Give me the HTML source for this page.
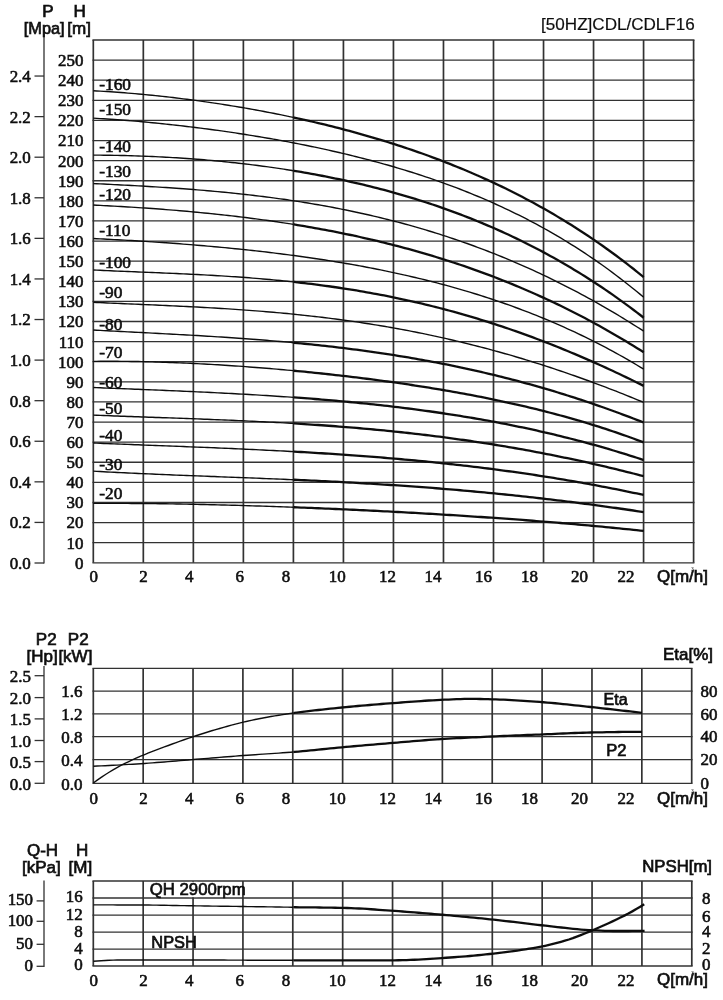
<!DOCTYPE html>
<html lang="en">
<head>
<meta charset="utf-8">
<title>[50HZ]CDL/CDLF16 performance curves</title>
<style>
html,body{margin:0;padding:0;background:#fff;}
body{width:723px;height:1000px;overflow:hidden;}
svg{display:block;}
text.s{font-family:"Liberation Serif", "Times New Roman", serif;}
text.a{font-family:"Liberation Sans", Arial, sans-serif;}
</style>
</head>
<body>
<svg width="723" height="1000" viewBox="0 0 723 1000">
<rect x="0" y="0" width="723" height="1000" fill="#ffffff"/>
<g filter="url(#soft)">
<line x1="92.45" y1="40.00" x2="694.45" y2="40.00" stroke="#333" stroke-width="1.3"/>
<line x1="92.45" y1="60.11" x2="694.45" y2="60.11" stroke="#333" stroke-width="1.3"/>
<line x1="92.45" y1="80.22" x2="694.45" y2="80.22" stroke="#333" stroke-width="1.3"/>
<line x1="92.45" y1="100.32" x2="694.45" y2="100.32" stroke="#333" stroke-width="1.3"/>
<line x1="92.45" y1="120.43" x2="694.45" y2="120.43" stroke="#333" stroke-width="1.3"/>
<line x1="92.45" y1="140.54" x2="694.45" y2="140.54" stroke="#333" stroke-width="1.3"/>
<line x1="92.45" y1="160.65" x2="694.45" y2="160.65" stroke="#333" stroke-width="1.3"/>
<line x1="92.45" y1="180.75" x2="694.45" y2="180.75" stroke="#333" stroke-width="1.3"/>
<line x1="92.45" y1="200.86" x2="694.45" y2="200.86" stroke="#333" stroke-width="1.3"/>
<line x1="92.45" y1="220.97" x2="694.45" y2="220.97" stroke="#333" stroke-width="1.3"/>
<line x1="92.45" y1="241.08" x2="694.45" y2="241.08" stroke="#333" stroke-width="1.3"/>
<line x1="92.45" y1="261.18" x2="694.45" y2="261.18" stroke="#333" stroke-width="1.3"/>
<line x1="92.45" y1="281.29" x2="694.45" y2="281.29" stroke="#333" stroke-width="1.3"/>
<line x1="92.45" y1="301.40" x2="694.45" y2="301.40" stroke="#333" stroke-width="1.3"/>
<line x1="92.45" y1="321.51" x2="694.45" y2="321.51" stroke="#333" stroke-width="1.3"/>
<line x1="92.45" y1="341.62" x2="694.45" y2="341.62" stroke="#333" stroke-width="1.3"/>
<line x1="92.45" y1="361.72" x2="694.45" y2="361.72" stroke="#333" stroke-width="1.3"/>
<line x1="92.45" y1="381.83" x2="694.45" y2="381.83" stroke="#333" stroke-width="1.3"/>
<line x1="92.45" y1="401.94" x2="694.45" y2="401.94" stroke="#333" stroke-width="1.3"/>
<line x1="92.45" y1="422.05" x2="694.45" y2="422.05" stroke="#333" stroke-width="1.3"/>
<line x1="92.45" y1="442.15" x2="694.45" y2="442.15" stroke="#333" stroke-width="1.3"/>
<line x1="92.45" y1="462.26" x2="694.45" y2="462.26" stroke="#333" stroke-width="1.3"/>
<line x1="92.45" y1="482.37" x2="694.45" y2="482.37" stroke="#333" stroke-width="1.3"/>
<line x1="92.45" y1="502.48" x2="694.45" y2="502.48" stroke="#333" stroke-width="1.3"/>
<line x1="92.45" y1="522.58" x2="694.45" y2="522.58" stroke="#333" stroke-width="1.3"/>
<line x1="92.45" y1="542.69" x2="694.45" y2="542.69" stroke="#333" stroke-width="1.3"/>
<line x1="92.45" y1="562.80" x2="694.45" y2="562.80" stroke="#333" stroke-width="1.3"/>
<line x1="93.30" y1="40.00" x2="93.30" y2="562.80" stroke="#333" stroke-width="1.7"/>
<line x1="143.32" y1="40.00" x2="143.32" y2="562.80" stroke="#333" stroke-width="1.7"/>
<line x1="193.35" y1="40.00" x2="193.35" y2="562.80" stroke="#333" stroke-width="1.7"/>
<line x1="243.38" y1="40.00" x2="243.38" y2="562.80" stroke="#333" stroke-width="1.7"/>
<line x1="293.40" y1="40.00" x2="293.40" y2="562.80" stroke="#333" stroke-width="1.7"/>
<line x1="343.43" y1="40.00" x2="343.43" y2="562.80" stroke="#333" stroke-width="1.7"/>
<line x1="393.45" y1="40.00" x2="393.45" y2="562.80" stroke="#333" stroke-width="1.7"/>
<line x1="443.48" y1="40.00" x2="443.48" y2="562.80" stroke="#333" stroke-width="1.7"/>
<line x1="493.50" y1="40.00" x2="493.50" y2="562.80" stroke="#333" stroke-width="1.7"/>
<line x1="543.53" y1="40.00" x2="543.53" y2="562.80" stroke="#333" stroke-width="1.7"/>
<line x1="593.55" y1="40.00" x2="593.55" y2="562.80" stroke="#333" stroke-width="1.7"/>
<line x1="643.58" y1="40.00" x2="643.58" y2="562.80" stroke="#333" stroke-width="1.7"/>
<line x1="693.60" y1="40.00" x2="693.60" y2="562.80" stroke="#333" stroke-width="1.7"/>
<line x1="44.00" y1="28.00" x2="44.00" y2="563.60" stroke="#333" stroke-width="1.3"/>
<line x1="34.50" y1="563.00" x2="44.00" y2="563.00" stroke="#333" stroke-width="1.3"/>
<line x1="34.50" y1="522.42" x2="44.00" y2="522.42" stroke="#333" stroke-width="1.3"/>
<line x1="34.50" y1="481.84" x2="44.00" y2="481.84" stroke="#333" stroke-width="1.3"/>
<line x1="34.50" y1="441.26" x2="44.00" y2="441.26" stroke="#333" stroke-width="1.3"/>
<line x1="34.50" y1="400.68" x2="44.00" y2="400.68" stroke="#333" stroke-width="1.3"/>
<line x1="34.50" y1="360.10" x2="44.00" y2="360.10" stroke="#333" stroke-width="1.3"/>
<line x1="34.50" y1="319.52" x2="44.00" y2="319.52" stroke="#333" stroke-width="1.3"/>
<line x1="34.50" y1="278.94" x2="44.00" y2="278.94" stroke="#333" stroke-width="1.3"/>
<line x1="34.50" y1="238.36" x2="44.00" y2="238.36" stroke="#333" stroke-width="1.3"/>
<line x1="34.50" y1="197.78" x2="44.00" y2="197.78" stroke="#333" stroke-width="1.3"/>
<line x1="34.50" y1="157.20" x2="44.00" y2="157.20" stroke="#333" stroke-width="1.3"/>
<line x1="34.50" y1="116.62" x2="44.00" y2="116.62" stroke="#333" stroke-width="1.3"/>
<line x1="34.50" y1="76.04" x2="44.00" y2="76.04" stroke="#333" stroke-width="1.3"/>
<polyline points="93.30,90.75 96.76,90.94 100.22,91.14 103.68,91.34 107.15,91.56 110.61,91.79 114.07,92.03 117.53,92.28 120.99,92.53 124.45,92.80 127.92,93.08 131.38,93.37 134.84,93.66 138.30,93.97 141.76,94.29 145.22,94.61 148.69,94.95 152.15,95.30 155.61,95.65 159.07,96.01 162.53,96.39 165.99,96.77 169.46,97.16 172.92,97.56 176.38,97.98 179.84,98.40 183.30,98.83 186.76,99.26 190.23,99.71 193.69,100.17 197.15,100.64 200.61,101.11 204.07,101.60 207.53,102.09 211.00,102.60 214.46,103.11 217.92,103.63 221.38,104.16 224.84,104.71 228.30,105.26 231.77,105.82 235.23,106.39 238.69,106.97 242.15,107.56 245.61,108.15 249.07,108.76 252.54,109.38 256.00,110.01 259.46,110.65 262.92,111.29 266.38,111.95 269.84,112.62 273.31,113.30 276.77,113.99 280.23,114.68 283.69,115.39 287.15,116.11 290.61,116.84 293.40,117.44" fill="none" stroke="#111" stroke-width="1.4" stroke-linejoin="round" stroke-linecap="butt"/>
<polyline points="293.40,117.44 294.07,117.58 297.54,118.33 301.00,119.10 304.46,119.87 307.92,120.65 311.38,121.45 314.84,122.25 318.31,123.07 321.77,123.90 325.23,124.74 328.69,125.59 332.15,126.46 335.61,127.33 339.08,128.22 342.54,129.12 346.00,130.03 349.46,130.96 352.92,131.89 356.38,132.84 359.85,133.81 363.31,134.78 366.77,135.77 370.23,136.78 373.69,137.79 377.15,138.82 380.62,139.87 384.08,140.92 387.54,142.00 391.00,143.08 394.46,144.18 397.92,145.30 401.39,146.43 404.85,147.57 408.31,148.74 411.77,149.91 415.23,151.10 418.69,152.31 422.16,153.54 425.62,154.78 429.08,156.04 432.54,157.31 436.00,158.60 439.46,159.91 442.93,161.23 446.39,162.58 449.85,163.94 453.31,165.32 456.77,166.71 460.23,168.13 463.69,169.56 467.16,171.02 470.62,172.49 474.08,173.98 477.54,175.50 481.00,177.03 484.46,178.58 487.93,180.15 491.39,181.75 494.85,183.36 498.31,185.00 501.77,186.66 505.23,188.34 508.70,190.04 512.16,191.77 515.62,193.51 519.08,195.29 522.54,197.08 526.00,198.90 529.47,200.74 532.93,202.61 536.39,204.50 539.85,206.41 543.31,208.35 546.77,210.32 550.24,212.31 553.70,214.33 557.16,216.38 560.62,218.45 564.08,220.55 567.54,222.67 571.01,224.83 574.47,227.01 577.93,229.22 581.39,231.46 584.85,233.73 588.31,236.03 591.78,238.36 595.24,240.72 598.70,243.11 602.16,245.53 605.62,247.98 609.08,250.47 612.55,252.98 616.01,255.53 619.47,258.11 622.93,260.73 626.39,263.38 629.85,266.06 633.32,268.78 636.78,271.53 640.24,274.32 643.70,277.14" fill="none" stroke="#111" stroke-width="2.3" stroke-linejoin="round" stroke-linecap="butt"/>
<polyline points="93.30,118.17 96.76,118.37 100.22,118.58 103.68,118.80 107.15,119.02 110.61,119.26 114.07,119.50 117.53,119.75 120.99,120.01 124.45,120.27 127.92,120.55 131.38,120.83 134.84,121.12 138.30,121.42 141.76,121.73 145.22,122.04 148.69,122.37 152.15,122.70 155.61,123.04 159.07,123.38 162.53,123.74 165.99,124.10 169.46,124.47 172.92,124.84 176.38,125.23 179.84,125.62 183.30,126.02 186.76,126.43 190.23,126.84 193.69,127.26 197.15,127.69 200.61,128.13 204.07,128.58 207.53,129.03 211.00,129.49 214.46,129.96 217.92,130.43 221.38,130.92 224.84,131.41 228.30,131.91 231.77,132.42 235.23,132.93 238.69,133.46 242.15,133.99 245.61,134.53 249.07,135.08 252.54,135.63 256.00,136.20 259.46,136.77 262.92,137.36 266.38,137.95 269.84,138.55 273.31,139.15 276.77,139.77 280.23,140.40 283.69,141.03 287.15,141.68 290.61,142.33 294.07,142.99 297.54,143.67 301.00,144.35 304.46,145.04 307.92,145.75 311.38,146.46 314.84,147.18 318.31,147.92 321.77,148.66 325.23,149.41 328.69,150.18 332.15,150.96 335.61,151.74 339.08,152.54 342.54,153.35 346.00,154.18 349.46,155.01 352.92,155.86 356.38,156.72 359.85,157.59 363.31,158.47 366.77,159.37 370.23,160.28 373.69,161.20 377.15,162.14 380.62,163.09 384.08,164.05 387.54,165.03 391.00,166.02 394.46,167.03 397.92,168.05 401.39,169.09 404.85,170.14 408.31,171.21 411.77,172.29 415.23,173.39 418.69,174.51 422.16,175.64 425.62,176.79 429.08,177.95 432.54,179.14 436.00,180.34 439.46,181.56 442.93,182.79 446.39,184.05 449.85,185.32 453.31,186.62 456.77,187.93 460.23,189.26 463.69,190.61 467.16,191.99 470.62,193.38 474.08,194.79 477.54,196.23 481.00,197.69 484.46,199.17 487.93,200.67 491.39,202.19 494.85,203.74 498.31,205.31 501.77,206.90 505.23,208.52 508.70,210.16 512.16,211.82 515.62,213.51 519.08,215.23 522.54,216.97 526.00,218.74 529.47,220.53 532.93,222.36 536.39,224.20 539.85,226.08 543.31,227.99 546.77,229.92 550.24,231.88 553.70,233.87 557.16,235.89 560.62,237.94 564.08,240.02 567.54,242.14 571.01,244.28 574.47,246.45 577.93,248.66 581.39,250.90 584.85,253.17 588.31,255.48 591.78,257.82 595.24,260.20 598.70,262.61 602.16,265.05 605.62,267.53 609.08,270.05 612.55,272.60 616.01,275.19 619.47,277.82 622.93,280.49 626.39,283.19 629.85,285.94 633.32,288.72 636.78,291.55 640.24,294.41 643.70,297.32" fill="none" stroke="#111" stroke-width="1.4" stroke-linejoin="round" stroke-linecap="butt"/>
<polyline points="93.30,155.12 96.76,155.13 100.22,155.16 103.68,155.19 107.15,155.23 110.61,155.27 114.07,155.33 117.53,155.39 120.99,155.47 124.45,155.55 127.92,155.64 131.38,155.73 134.84,155.84 138.30,155.95 141.76,156.08 145.22,156.21 148.69,156.35 152.15,156.50 155.61,156.66 159.07,156.83 162.53,157.00 165.99,157.19 169.46,157.38 172.92,157.58 176.38,157.79 179.84,158.01 183.30,158.24 186.76,158.48 190.23,158.73 193.69,158.99 197.15,159.25 200.61,159.53 204.07,159.82 207.53,160.11 211.00,160.42 214.46,160.73 217.92,161.05 221.38,161.39 224.84,161.73 228.30,162.08 231.77,162.45 235.23,162.82 238.69,163.21 242.15,163.60 245.61,164.01 249.07,164.42 252.54,164.85 256.00,165.28 259.46,165.73 262.92,166.19 266.38,166.66 269.84,167.14 273.31,167.63 276.77,168.13 280.23,168.65 283.69,169.17 287.15,169.71 290.61,170.26 293.40,170.71" fill="none" stroke="#111" stroke-width="1.4" stroke-linejoin="round" stroke-linecap="butt"/>
<polyline points="293.40,170.71 294.07,170.82 297.54,171.39 301.00,171.98 304.46,172.57 307.92,173.18 311.38,173.81 314.84,174.44 318.31,175.09 321.77,175.75 325.23,176.42 328.69,177.11 332.15,177.81 335.61,178.52 339.08,179.24 342.54,179.98 346.00,180.74 349.46,181.51 352.92,182.29 356.38,183.08 359.85,183.89 363.31,184.72 366.77,185.56 370.23,186.41 373.69,187.28 377.15,188.17 380.62,189.07 384.08,189.98 387.54,190.91 391.00,191.86 394.46,192.82 397.92,193.80 401.39,194.80 404.85,195.81 408.31,196.84 411.77,197.89 415.23,198.95 418.69,200.03 422.16,201.13 425.62,202.24 429.08,203.38 432.54,204.53 436.00,205.70 439.46,206.89 442.93,208.09 446.39,209.32 449.85,210.56 453.31,211.83 456.77,213.11 460.23,214.41 463.69,215.73 467.16,217.08 470.62,218.44 474.08,219.82 477.54,221.23 481.00,222.65 484.46,224.10 487.93,225.57 491.39,227.06 494.85,228.57 498.31,230.10 501.77,231.66 505.23,233.23 508.70,234.83 512.16,236.46 515.62,238.10 519.08,239.77 522.54,241.47 526.00,243.19 529.47,244.93 532.93,246.70 536.39,248.49 539.85,250.30 543.31,252.14 546.77,254.01 550.24,255.90 553.70,257.82 557.16,259.77 560.62,261.74 564.08,263.74 567.54,265.76 571.01,267.81 574.47,269.89 577.93,272.00 581.39,274.14 584.85,276.30 588.31,278.50 591.78,280.72 595.24,282.97 598.70,285.25 602.16,287.56 605.62,289.90 609.08,292.27 612.55,294.67 616.01,297.11 619.47,299.57 622.93,302.07 626.39,304.59 629.85,307.15 633.32,309.75 636.78,312.37 640.24,315.03 643.70,317.72" fill="none" stroke="#111" stroke-width="2.3" stroke-linejoin="round" stroke-linecap="butt"/>
<polyline points="93.30,183.58 96.76,183.74 100.22,183.91 103.68,184.07 107.15,184.24 110.61,184.41 114.07,184.58 117.53,184.76 120.99,184.94 124.45,185.12 127.92,185.30 131.38,185.49 134.84,185.67 138.30,185.87 141.76,186.06 145.22,186.26 148.69,186.47 152.15,186.68 155.61,186.89 159.07,187.11 162.53,187.33 165.99,187.55 169.46,187.78 172.92,188.02 176.38,188.26 179.84,188.51 183.30,188.76 186.76,189.02 190.23,189.29 193.69,189.56 197.15,189.84 200.61,190.12 204.07,190.41 207.53,190.71 211.00,191.01 214.46,191.33 217.92,191.65 221.38,191.97 224.84,192.31 228.30,192.65 231.77,193.00 235.23,193.36 238.69,193.72 242.15,194.10 245.61,194.48 249.07,194.88 252.54,195.28 256.00,195.69 259.46,196.11 262.92,196.54 266.38,196.97 269.84,197.42 273.31,197.88 276.77,198.35 280.23,198.83 283.69,199.31 287.15,199.81 290.61,200.32 294.07,200.84 297.54,201.37 301.00,201.91 304.46,202.47 307.92,203.03 311.38,203.61 314.84,204.19 318.31,204.79 321.77,205.40 325.23,206.03 328.69,206.66 332.15,207.31 335.61,207.97 339.08,208.64 342.54,209.33 346.00,210.02 349.46,210.74 352.92,211.46 356.38,212.20 359.85,212.95 363.31,213.71 366.77,214.49 370.23,215.28 373.69,216.08 377.15,216.90 380.62,217.74 384.08,218.58 387.54,219.45 391.00,220.32 394.46,221.21 397.92,222.12 401.39,223.04 404.85,223.98 408.31,224.93 411.77,225.89 415.23,226.87 418.69,227.87 422.16,228.88 425.62,229.91 429.08,230.96 432.54,232.02 436.00,233.09 439.46,234.19 442.93,235.30 446.39,236.42 449.85,237.56 453.31,238.72 456.77,239.90 460.23,241.09 463.69,242.30 467.16,243.53 470.62,244.77 474.08,246.03 477.54,247.31 481.00,248.61 484.46,249.92 487.93,251.25 491.39,252.60 494.85,253.97 498.31,255.35 501.77,256.76 505.23,258.18 508.70,259.62 512.16,261.08 515.62,262.56 519.08,264.05 522.54,265.57 526.00,267.10 529.47,268.66 532.93,270.23 536.39,271.82 539.85,273.43 543.31,275.06 546.77,276.71 550.24,278.38 553.70,280.07 557.16,281.78 560.62,283.51 564.08,285.26 567.54,287.03 571.01,288.82 574.47,290.62 577.93,292.45 581.39,294.30 584.85,296.17 588.31,298.07 591.78,299.98 595.24,301.91 598.70,303.86 602.16,305.84 605.62,307.83 609.08,309.85 612.55,311.89 616.01,313.94 619.47,316.02 622.93,318.13 626.39,320.25 629.85,322.39 633.32,324.56 636.78,326.75 640.24,328.96 643.70,331.19" fill="none" stroke="#111" stroke-width="1.4" stroke-linejoin="round" stroke-linecap="butt"/>
<polyline points="93.30,205.07 96.76,205.24 100.22,205.41 103.68,205.59 107.15,205.77 110.61,205.95 114.07,206.14 117.53,206.34 120.99,206.54 124.45,206.74 127.92,206.95 131.38,207.16 134.84,207.38 138.30,207.60 141.76,207.83 145.22,208.06 148.69,208.30 152.15,208.55 155.61,208.80 159.07,209.05 162.53,209.31 165.99,209.58 169.46,209.85 172.92,210.13 176.38,210.42 179.84,210.71 183.30,211.01 186.76,211.31 190.23,211.62 193.69,211.94 197.15,212.26 200.61,212.59 204.07,212.93 207.53,213.28 211.00,213.63 214.46,213.99 217.92,214.35 221.38,214.73 224.84,215.11 228.30,215.50 231.77,215.89 235.23,216.30 238.69,216.71 242.15,217.13 245.61,217.56 249.07,218.00 252.54,218.44 256.00,218.89 259.46,219.36 262.92,219.83 266.38,220.31 269.84,220.80 273.31,221.29 276.77,221.80 280.23,222.32 283.69,222.84 287.15,223.38 290.61,223.92 293.40,224.37" fill="none" stroke="#111" stroke-width="1.4" stroke-linejoin="round" stroke-linecap="butt"/>
<polyline points="293.40,224.37 294.07,224.48 297.54,225.04 301.00,225.61 304.46,226.20 307.92,226.79 311.38,227.40 314.84,228.01 318.31,228.64 321.77,229.27 325.23,229.92 328.69,230.58 332.15,231.24 335.61,231.92 339.08,232.61 342.54,233.32 346.00,234.03 349.46,234.75 352.92,235.49 356.38,236.24 359.85,237.00 363.31,237.77 366.77,238.55 370.23,239.35 373.69,240.16 377.15,240.98 380.62,241.81 384.08,242.66 387.54,243.52 391.00,244.39 394.46,245.28 397.92,246.18 401.39,247.09 404.85,248.02 408.31,248.96 411.77,249.91 415.23,250.88 418.69,251.86 422.16,252.86 425.62,253.86 429.08,254.89 432.54,255.93 436.00,256.98 439.46,258.05 442.93,259.13 446.39,260.23 449.85,261.34 453.31,262.47 456.77,263.62 460.23,264.78 463.69,265.95 467.16,267.15 470.62,268.35 474.08,269.58 477.54,270.82 481.00,272.07 484.46,273.35 487.93,274.64 491.39,275.94 494.85,277.27 498.31,278.61 501.77,279.96 505.23,281.34 508.70,282.73 512.16,284.14 515.62,285.57 519.08,287.02 522.54,288.48 526.00,289.97 529.47,291.47 532.93,292.99 536.39,294.52 539.85,296.08 543.31,297.66 546.77,299.25 550.24,300.87 553.70,302.50 557.16,304.15 560.62,305.83 564.08,307.52 567.54,309.23 571.01,310.97 574.47,312.72 577.93,314.49 581.39,316.29 584.85,318.10 588.31,319.94 591.78,321.80 595.24,323.67 598.70,325.57 602.16,327.49 605.62,329.44 609.08,331.40 612.55,333.39 616.01,335.40 619.47,337.43 622.93,339.48 626.39,341.56 629.85,343.66 633.32,345.78 636.78,347.92 640.24,350.09 643.70,352.28" fill="none" stroke="#111" stroke-width="2.3" stroke-linejoin="round" stroke-linecap="butt"/>
<polyline points="93.30,238.55 96.76,238.72 100.22,238.89 103.68,239.06 107.15,239.24 110.61,239.42 114.07,239.60 117.53,239.79 120.99,239.98 124.45,240.17 127.92,240.37 131.38,240.57 134.84,240.77 138.30,240.98 141.76,241.20 145.22,241.41 148.69,241.64 152.15,241.86 155.61,242.09 159.07,242.33 162.53,242.56 165.99,242.81 169.46,243.05 172.92,243.31 176.38,243.56 179.84,243.82 183.30,244.09 186.76,244.36 190.23,244.63 193.69,244.91 197.15,245.20 200.61,245.49 204.07,245.78 207.53,246.08 211.00,246.39 214.46,246.70 217.92,247.02 221.38,247.34 224.84,247.67 228.30,248.00 231.77,248.34 235.23,248.68 238.69,249.03 242.15,249.39 245.61,249.75 249.07,250.12 252.54,250.50 256.00,250.88 259.46,251.27 262.92,251.67 266.38,252.07 269.84,252.48 273.31,252.89 276.77,253.32 280.23,253.75 283.69,254.19 287.15,254.63 290.61,255.08 294.07,255.54 297.54,256.01 301.00,256.49 304.46,256.97 307.92,257.47 311.38,257.97 314.84,258.47 318.31,258.99 321.77,259.52 325.23,260.05 328.69,260.60 332.15,261.15 335.61,261.71 339.08,262.28 342.54,262.86 346.00,263.46 349.46,264.06 352.92,264.67 356.38,265.29 359.85,265.92 363.31,266.56 366.77,267.21 370.23,267.87 373.69,268.54 377.15,269.23 380.62,269.92 384.08,270.63 387.54,271.34 391.00,272.07 394.46,272.81 397.92,273.56 401.39,274.33 404.85,275.11 408.31,275.89 411.77,276.70 415.23,277.51 418.69,278.34 422.16,279.18 425.62,280.03 429.08,280.90 432.54,281.78 436.00,282.67 439.46,283.58 442.93,284.50 446.39,285.44 449.85,286.39 453.31,287.36 456.77,288.34 460.23,289.33 463.69,290.34 467.16,291.37 470.62,292.41 474.08,293.47 477.54,294.54 481.00,295.63 484.46,296.74 487.93,297.86 491.39,299.00 494.85,300.16 498.31,301.33 501.77,302.52 505.23,303.73 508.70,304.96 512.16,306.21 515.62,307.47 519.08,308.75 522.54,310.05 526.00,311.37 529.47,312.71 532.93,314.07 536.39,315.45 539.85,316.84 543.31,318.26 546.77,319.70 550.24,321.16 553.70,322.64 557.16,324.14 560.62,325.66 564.08,327.20 567.54,328.77 571.01,330.35 574.47,331.96 577.93,333.59 581.39,335.25 584.85,336.93 588.31,338.63 591.78,340.35 595.24,342.10 598.70,343.87 602.16,345.66 605.62,347.48 609.08,349.32 612.55,351.19 616.01,353.09 619.47,355.01 622.93,356.95 626.39,358.92 629.85,360.92 633.32,362.95 636.78,365.00 640.24,367.07 643.70,369.18" fill="none" stroke="#111" stroke-width="1.4" stroke-linejoin="round" stroke-linecap="butt"/>
<polyline points="93.30,269.98 96.76,270.15 100.22,270.31 103.68,270.47 107.15,270.63 110.61,270.78 114.07,270.93 117.53,271.08 120.99,271.22 124.45,271.37 127.92,271.51 131.38,271.66 134.84,271.80 138.30,271.94 141.76,272.08 145.22,272.22 148.69,272.37 152.15,272.51 155.61,272.65 159.07,272.80 162.53,272.94 165.99,273.09 169.46,273.24 172.92,273.40 176.38,273.55 179.84,273.71 183.30,273.87 186.76,274.04 190.23,274.20 193.69,274.38 197.15,274.55 200.61,274.73 204.07,274.92 207.53,275.10 211.00,275.30 214.46,275.50 217.92,275.70 221.38,275.91 224.84,276.13 228.30,276.35 231.77,276.58 235.23,276.81 238.69,277.05 242.15,277.30 245.61,277.56 249.07,277.82 252.54,278.09 256.00,278.36 259.46,278.65 262.92,278.94 266.38,279.24 269.84,279.55 273.31,279.87 276.77,280.20 280.23,280.53 283.69,280.88 287.15,281.23 290.61,281.59 293.40,281.89" fill="none" stroke="#111" stroke-width="1.4" stroke-linejoin="round" stroke-linecap="butt"/>
<polyline points="293.40,281.89 294.07,281.96 297.54,282.35 301.00,282.74 304.46,283.14 307.92,283.55 311.38,283.98 314.84,284.41 318.31,284.85 321.77,285.31 325.23,285.77 328.69,286.25 332.15,286.74 335.61,287.24 339.08,287.75 342.54,288.27 346.00,288.80 349.46,289.35 352.92,289.90 356.38,290.47 359.85,291.06 363.31,291.65 366.77,292.26 370.23,292.87 373.69,293.51 377.15,294.15 380.62,294.81 384.08,295.48 387.54,296.16 391.00,296.85 394.46,297.56 397.92,298.29 401.39,299.02 404.85,299.77 408.31,300.53 411.77,301.31 415.23,302.10 418.69,302.90 422.16,303.72 425.62,304.55 429.08,305.40 432.54,306.25 436.00,307.13 439.46,308.01 442.93,308.92 446.39,309.83 449.85,310.76 453.31,311.70 456.77,312.66 460.23,313.64 463.69,314.62 467.16,315.62 470.62,316.64 474.08,317.67 477.54,318.72 481.00,319.78 484.46,320.85 487.93,321.94 491.39,323.04 494.85,324.16 498.31,325.29 501.77,326.44 505.23,327.60 508.70,328.78 512.16,329.97 515.62,331.18 519.08,332.40 522.54,333.63 526.00,334.88 529.47,336.15 532.93,337.42 536.39,338.72 539.85,340.03 543.31,341.35 546.77,342.69 550.24,344.04 553.70,345.40 557.16,346.79 560.62,348.18 564.08,349.59 567.54,351.01 571.01,352.45 574.47,353.90 577.93,355.37 581.39,356.85 584.85,358.35 588.31,359.86 591.78,361.38 595.24,362.92 598.70,364.47 602.16,366.03 605.62,367.61 609.08,369.20 612.55,370.81 616.01,372.42 619.47,374.06 622.93,375.70 626.39,377.36 629.85,379.03 633.32,380.72 636.78,382.42 640.24,384.13 643.70,385.85" fill="none" stroke="#111" stroke-width="2.3" stroke-linejoin="round" stroke-linecap="butt"/>
<polyline points="93.30,302.32 96.76,302.48 100.22,302.64 103.68,302.80 107.15,302.95 110.61,303.11 114.07,303.26 117.53,303.41 120.99,303.56 124.45,303.71 127.92,303.86 131.38,304.01 134.84,304.16 138.30,304.31 141.76,304.46 145.22,304.61 148.69,304.76 152.15,304.91 155.61,305.07 159.07,305.22 162.53,305.38 165.99,305.54 169.46,305.70 172.92,305.86 176.38,306.02 179.84,306.19 183.30,306.36 186.76,306.53 190.23,306.71 193.69,306.89 197.15,307.07 200.61,307.25 204.07,307.44 207.53,307.64 211.00,307.84 214.46,308.04 217.92,308.24 221.38,308.46 224.84,308.67 228.30,308.89 231.77,309.12 235.23,309.35 238.69,309.59 242.15,309.83 245.61,310.08 249.07,310.34 252.54,310.60 256.00,310.86 259.46,311.14 262.92,311.42 266.38,311.70 269.84,312.00 273.31,312.30 276.77,312.61 280.23,312.92 283.69,313.24 287.15,313.57 290.61,313.91 294.07,314.25 297.54,314.61 301.00,314.97 304.46,315.34 307.92,315.71 311.38,316.10 314.84,316.49 318.31,316.89 321.77,317.30 325.23,317.72 328.69,318.15 332.15,318.59 335.61,319.04 339.08,319.49 342.54,319.96 346.00,320.43 349.46,320.92 352.92,321.41 356.38,321.92 359.85,322.43 363.31,322.95 366.77,323.48 370.23,324.03 373.69,324.58 377.15,325.14 380.62,325.72 384.08,326.30 387.54,326.90 391.00,327.50 394.46,328.12 397.92,328.74 401.39,329.38 404.85,330.03 408.31,330.68 411.77,331.35 415.23,332.03 418.69,332.73 422.16,333.43 425.62,334.14 429.08,334.87 432.54,335.60 436.00,336.35 439.46,337.11 442.93,337.88 446.39,338.66 449.85,339.45 453.31,340.25 456.77,341.07 460.23,341.90 463.69,342.73 467.16,343.58 470.62,344.45 474.08,345.32 477.54,346.20 481.00,347.10 484.46,348.01 487.93,348.93 491.39,349.86 494.85,350.81 498.31,351.76 501.77,352.73 505.23,353.71 508.70,354.70 512.16,355.70 515.62,356.72 519.08,357.74 522.54,358.78 526.00,359.83 529.47,360.89 532.93,361.97 536.39,363.05 539.85,364.15 543.31,365.26 546.77,366.38 550.24,367.51 553.70,368.65 557.16,369.81 560.62,370.98 564.08,372.16 567.54,373.35 571.01,374.55 574.47,375.77 577.93,376.99 581.39,378.23 584.85,379.48 588.31,380.74 591.78,382.01 595.24,383.29 598.70,384.59 602.16,385.89 605.62,387.21 609.08,388.54 612.55,389.87 616.01,391.22 619.47,392.59 622.93,393.96 626.39,395.34 629.85,396.73 633.32,398.14 636.78,399.55 640.24,400.98 643.70,402.42" fill="none" stroke="#111" stroke-width="1.4" stroke-linejoin="round" stroke-linecap="butt"/>
<polyline points="93.30,330.02 96.76,330.21 100.22,330.40 103.68,330.58 107.15,330.77 110.61,330.95 114.07,331.13 117.53,331.31 120.99,331.49 124.45,331.67 127.92,331.85 131.38,332.03 134.84,332.21 138.30,332.39 141.76,332.57 145.22,332.74 148.69,332.92 152.15,333.10 155.61,333.29 159.07,333.47 162.53,333.65 165.99,333.83 169.46,334.02 172.92,334.21 176.38,334.39 179.84,334.59 183.30,334.78 186.76,334.97 190.23,335.17 193.69,335.37 197.15,335.57 200.61,335.77 204.07,335.98 207.53,336.19 211.00,336.40 214.46,336.62 217.92,336.84 221.38,337.06 224.84,337.29 228.30,337.52 231.77,337.75 235.23,337.99 238.69,338.23 242.15,338.47 245.61,338.72 249.07,338.98 252.54,339.24 256.00,339.50 259.46,339.77 262.92,340.04 266.38,340.32 269.84,340.61 273.31,340.90 276.77,341.19 280.23,341.49 283.69,341.80 287.15,342.11 290.61,342.42 293.40,342.68" fill="none" stroke="#111" stroke-width="1.4" stroke-linejoin="round" stroke-linecap="butt"/>
<polyline points="293.40,342.68 294.07,342.75 297.54,343.08 301.00,343.41 304.46,343.76 307.92,344.10 311.38,344.46 314.84,344.82 318.31,345.19 321.77,345.56 325.23,345.95 328.69,346.34 332.15,346.73 335.61,347.14 339.08,347.55 342.54,347.97 346.00,348.39 349.46,348.83 352.92,349.27 356.38,349.72 359.85,350.18 363.31,350.64 366.77,351.12 370.23,351.60 373.69,352.09 377.15,352.59 380.62,353.10 384.08,353.61 387.54,354.14 391.00,354.67 394.46,355.22 397.92,355.77 401.39,356.33 404.85,356.90 408.31,357.48 411.77,358.07 415.23,358.67 418.69,359.28 422.16,359.89 425.62,360.52 429.08,361.16 432.54,361.81 436.00,362.46 439.46,363.13 442.93,363.81 446.39,364.49 449.85,365.19 453.31,365.90 456.77,366.62 460.23,367.35 463.69,368.08 467.16,368.83 470.62,369.60 474.08,370.37 477.54,371.15 481.00,371.94 484.46,372.75 487.93,373.56 491.39,374.39 494.85,375.22 498.31,376.07 501.77,376.93 505.23,377.80 508.70,378.68 512.16,379.58 515.62,380.48 519.08,381.40 522.54,382.33 526.00,383.27 529.47,384.22 532.93,385.18 536.39,386.16 539.85,387.15 543.31,388.15 546.77,389.16 550.24,390.18 553.70,391.22 557.16,392.27 560.62,393.33 564.08,394.40 567.54,395.48 571.01,396.58 574.47,397.69 577.93,398.81 581.39,399.95 584.85,401.09 588.31,402.25 591.78,403.42 595.24,404.61 598.70,405.81 602.16,407.02 605.62,408.24 609.08,409.48 612.55,410.72 616.01,411.99 619.47,413.26 622.93,414.55 626.39,415.85 629.85,417.16 633.32,418.49 636.78,419.83 640.24,421.18 643.70,422.54" fill="none" stroke="#111" stroke-width="2.3" stroke-linejoin="round" stroke-linecap="butt"/>
<polyline points="93.30,361.39 96.76,361.35 100.22,361.32 103.68,361.31 107.15,361.30 110.61,361.29 114.07,361.30 117.53,361.32 120.99,361.34 124.45,361.37 127.92,361.41 131.38,361.46 134.84,361.51 138.30,361.57 141.76,361.64 145.22,361.72 148.69,361.80 152.15,361.89 155.61,361.98 159.07,362.09 162.53,362.20 165.99,362.32 169.46,362.44 172.92,362.57 176.38,362.70 179.84,362.85 183.30,363.00 186.76,363.15 190.23,363.31 193.69,363.48 197.15,363.65 200.61,363.83 204.07,364.02 207.53,364.21 211.00,364.40 214.46,364.61 217.92,364.81 221.38,365.03 224.84,365.24 228.30,365.47 231.77,365.70 235.23,365.93 238.69,366.17 242.15,366.42 245.61,366.67 249.07,366.93 252.54,367.19 256.00,367.46 259.46,367.73 262.92,368.00 266.38,368.29 269.84,368.57 273.31,368.87 276.77,369.16 280.23,369.47 283.69,369.78 287.15,370.09 290.61,370.41 293.40,370.67" fill="none" stroke="#111" stroke-width="1.4" stroke-linejoin="round" stroke-linecap="butt"/>
<polyline points="293.40,370.67 294.07,370.73 297.54,371.06 301.00,371.39 304.46,371.73 307.92,372.08 311.38,372.43 314.84,372.78 318.31,373.14 321.77,373.51 325.23,373.88 328.69,374.25 332.15,374.63 335.61,375.02 339.08,375.41 342.54,375.81 346.00,376.21 349.46,376.62 352.92,377.04 356.38,377.46 359.85,377.88 363.31,378.32 366.77,378.75 370.23,379.20 373.69,379.65 377.15,380.10 380.62,380.56 384.08,381.03 387.54,381.50 391.00,381.98 394.46,382.47 397.92,382.96 401.39,383.46 404.85,383.97 408.31,384.48 411.77,385.00 415.23,385.53 418.69,386.06 422.16,386.60 425.62,387.15 429.08,387.71 432.54,388.27 436.00,388.84 439.46,389.42 442.93,390.00 446.39,390.60 449.85,391.20 453.31,391.81 456.77,392.43 460.23,393.05 463.69,393.69 467.16,394.33 470.62,394.98 474.08,395.64 477.54,396.31 481.00,396.99 484.46,397.68 487.93,398.38 491.39,399.09 494.85,399.81 498.31,400.53 501.77,401.27 505.23,402.02 508.70,402.78 512.16,403.54 515.62,404.32 519.08,405.11 522.54,405.91 526.00,406.73 529.47,407.55 532.93,408.39 536.39,409.23 539.85,410.09 543.31,410.96 546.77,411.85 550.24,412.74 553.70,413.65 557.16,414.57 560.62,415.51 564.08,416.46 567.54,417.42 571.01,418.39 574.47,419.38 577.93,420.38 581.39,421.40 584.85,422.43 588.31,423.48 591.78,424.54 595.24,425.62 598.70,426.71 602.16,427.82 605.62,428.95 609.08,430.09 612.55,431.24 616.01,432.42 619.47,433.61 622.93,434.81 626.39,436.04 629.85,437.28 633.32,438.54 636.78,439.82 640.24,441.12 643.70,442.43" fill="none" stroke="#111" stroke-width="2.3" stroke-linejoin="round" stroke-linecap="butt"/>
<polyline points="93.30,387.53 96.76,387.67 100.22,387.80 103.68,387.94 107.15,388.08 110.61,388.21 114.07,388.35 117.53,388.49 120.99,388.63 124.45,388.76 127.92,388.90 131.38,389.04 134.84,389.18 138.30,389.32 141.76,389.45 145.22,389.60 148.69,389.74 152.15,389.88 155.61,390.02 159.07,390.16 162.53,390.31 165.99,390.45 169.46,390.60 172.92,390.75 176.38,390.90 179.84,391.05 183.30,391.20 186.76,391.36 190.23,391.51 193.69,391.67 197.15,391.83 200.61,391.99 204.07,392.16 207.53,392.32 211.00,392.49 214.46,392.66 217.92,392.83 221.38,393.01 224.84,393.19 228.30,393.37 231.77,393.55 235.23,393.74 238.69,393.93 242.15,394.12 245.61,394.31 249.07,394.51 252.54,394.71 256.00,394.92 259.46,395.12 262.92,395.34 266.38,395.55 269.84,395.77 273.31,395.99 276.77,396.22 280.23,396.45 283.69,396.68 287.15,396.92 290.61,397.16 293.40,397.36" fill="none" stroke="#111" stroke-width="1.4" stroke-linejoin="round" stroke-linecap="butt"/>
<polyline points="293.40,397.36 294.07,397.41 297.54,397.66 301.00,397.91 304.46,398.17 307.92,398.44 311.38,398.71 314.84,398.98 318.31,399.26 321.77,399.54 325.23,399.83 328.69,400.12 332.15,400.42 335.61,400.73 339.08,401.04 342.54,401.35 346.00,401.67 349.46,402.00 352.92,402.33 356.38,402.67 359.85,403.01 363.31,403.36 366.77,403.71 370.23,404.08 373.69,404.44 377.15,404.82 380.62,405.20 384.08,405.59 387.54,405.98 391.00,406.38 394.46,406.79 397.92,407.20 401.39,407.62 404.85,408.05 408.31,408.49 411.77,408.93 415.23,409.38 418.69,409.84 422.16,410.30 425.62,410.78 429.08,411.26 432.54,411.74 436.00,412.24 439.46,412.75 442.93,413.26 446.39,413.78 449.85,414.31 453.31,414.84 456.77,415.39 460.23,415.94 463.69,416.51 467.16,417.08 470.62,417.66 474.08,418.25 477.54,418.84 481.00,419.45 484.46,420.07 487.93,420.69 491.39,421.33 494.85,421.97 498.31,422.63 501.77,423.29 505.23,423.97 508.70,424.65 512.16,425.34 515.62,426.05 519.08,426.76 522.54,427.48 526.00,428.22 529.47,428.96 532.93,429.72 536.39,430.49 539.85,431.26 543.31,432.05 546.77,432.85 550.24,433.66 553.70,434.48 557.16,435.31 560.62,436.15 564.08,437.01 567.54,437.87 571.01,438.75 574.47,439.64 577.93,440.54 581.39,441.46 584.85,442.38 588.31,443.32 591.78,444.27 595.24,445.23 598.70,446.20 602.16,447.19 605.62,448.19 609.08,449.20 612.55,450.23 616.01,451.27 619.47,452.32 622.93,453.38 626.39,454.46 629.85,455.55 633.32,456.65 636.78,457.77 640.24,458.90 643.70,460.04" fill="none" stroke="#111" stroke-width="2.3" stroke-linejoin="round" stroke-linecap="butt"/>
<polyline points="93.30,415.11 96.76,415.25 100.22,415.39 103.68,415.53 107.15,415.66 110.61,415.80 114.07,415.93 117.53,416.06 120.99,416.19 124.45,416.32 127.92,416.45 131.38,416.57 134.84,416.70 138.30,416.82 141.76,416.94 145.22,417.07 148.69,417.19 152.15,417.31 155.61,417.43 159.07,417.55 162.53,417.68 165.99,417.80 169.46,417.92 172.92,418.04 176.38,418.17 179.84,418.29 183.30,418.42 186.76,418.54 190.23,418.67 193.69,418.80 197.15,418.92 200.61,419.06 204.07,419.19 207.53,419.32 211.00,419.46 214.46,419.59 217.92,419.73 221.38,419.87 224.84,420.01 228.30,420.16 231.77,420.31 235.23,420.46 238.69,420.61 242.15,420.76 245.61,420.92 249.07,421.08 252.54,421.24 256.00,421.41 259.46,421.58 262.92,421.75 266.38,421.93 269.84,422.11 273.31,422.29 276.77,422.48 280.23,422.67 283.69,422.86 287.15,423.06 290.61,423.26 293.40,423.42" fill="none" stroke="#111" stroke-width="1.4" stroke-linejoin="round" stroke-linecap="butt"/>
<polyline points="293.40,423.42 294.07,423.46 297.54,423.67 301.00,423.89 304.46,424.10 307.92,424.33 311.38,424.55 314.84,424.79 318.31,425.02 321.77,425.26 325.23,425.51 328.69,425.76 332.15,426.01 335.61,426.27 339.08,426.54 342.54,426.81 346.00,427.08 349.46,427.36 352.92,427.65 356.38,427.94 359.85,428.24 363.31,428.54 366.77,428.85 370.23,429.16 373.69,429.48 377.15,429.81 380.62,430.14 384.08,430.48 387.54,430.82 391.00,431.17 394.46,431.52 397.92,431.89 401.39,432.25 404.85,432.63 408.31,433.01 411.77,433.40 415.23,433.79 418.69,434.19 422.16,434.60 425.62,435.01 429.08,435.43 432.54,435.86 436.00,436.29 439.46,436.73 442.93,437.18 446.39,437.63 449.85,438.10 453.31,438.56 456.77,439.04 460.23,439.52 463.69,440.01 467.16,440.51 470.62,441.01 474.08,441.53 477.54,442.05 481.00,442.57 484.46,443.11 487.93,443.65 491.39,444.20 494.85,444.75 498.31,445.32 501.77,445.89 505.23,446.47 508.70,447.06 512.16,447.65 515.62,448.25 519.08,448.87 522.54,449.48 526.00,450.11 529.47,450.74 532.93,451.38 536.39,452.03 539.85,452.69 543.31,453.36 546.77,454.03 550.24,454.71 553.70,455.40 557.16,456.10 560.62,456.81 564.08,457.52 567.54,458.24 571.01,458.97 574.47,459.71 577.93,460.45 581.39,461.21 584.85,461.97 588.31,462.74 591.78,463.52 595.24,464.31 598.70,465.10 602.16,465.91 605.62,466.72 609.08,467.54 612.55,468.37 616.01,469.20 619.47,470.05 622.93,470.90 626.39,471.76 629.85,472.63 633.32,473.51 636.78,474.39 640.24,475.29 643.70,476.19" fill="none" stroke="#111" stroke-width="2.3" stroke-linejoin="round" stroke-linecap="butt"/>
<polyline points="93.30,443.02 96.76,443.17 100.22,443.31 103.68,443.45 107.15,443.59 110.61,443.73 114.07,443.86 117.53,444.00 120.99,444.14 124.45,444.27 127.92,444.41 131.38,444.54 134.84,444.68 138.30,444.81 141.76,444.95 145.22,445.08 148.69,445.21 152.15,445.35 155.61,445.48 159.07,445.61 162.53,445.75 165.99,445.88 169.46,446.01 172.92,446.15 176.38,446.28 179.84,446.42 183.30,446.56 186.76,446.69 190.23,446.83 193.69,446.97 197.15,447.11 200.61,447.25 204.07,447.39 207.53,447.53 211.00,447.67 214.46,447.82 217.92,447.96 221.38,448.11 224.84,448.26 228.30,448.41 231.77,448.56 235.23,448.72 238.69,448.87 242.15,449.03 245.61,449.19 249.07,449.35 252.54,449.51 256.00,449.67 259.46,449.84 262.92,450.01 266.38,450.18 269.84,450.35 273.31,450.53 276.77,450.71 280.23,450.89 283.69,451.07 287.15,451.25 290.61,451.44 293.40,451.60" fill="none" stroke="#111" stroke-width="1.4" stroke-linejoin="round" stroke-linecap="butt"/>
<polyline points="293.40,451.60 294.07,451.63 297.54,451.83 301.00,452.02 304.46,452.22 307.92,452.43 311.38,452.63 314.84,452.84 318.31,453.05 321.77,453.27 325.23,453.48 328.69,453.70 332.15,453.93 335.61,454.16 339.08,454.39 342.54,454.63 346.00,454.86 349.46,455.11 352.92,455.35 356.38,455.60 359.85,455.86 363.31,456.12 366.77,456.38 370.23,456.64 373.69,456.91 377.15,457.19 380.62,457.47 384.08,457.75 387.54,458.04 391.00,458.33 394.46,458.63 397.92,458.93 401.39,459.23 404.85,459.54 408.31,459.85 411.77,460.17 415.23,460.50 418.69,460.83 422.16,461.16 425.62,461.50 429.08,461.84 432.54,462.19 436.00,462.54 439.46,462.90 442.93,463.27 446.39,463.64 449.85,464.01 453.31,464.39 456.77,464.78 460.23,465.17 463.69,465.56 467.16,465.97 470.62,466.37 474.08,466.79 477.54,467.20 481.00,467.63 484.46,468.06 487.93,468.50 491.39,468.94 494.85,469.39 498.31,469.84 501.77,470.30 505.23,470.77 508.70,471.24 512.16,471.72 515.62,472.20 519.08,472.70 522.54,473.19 526.00,473.70 529.47,474.21 532.93,474.73 536.39,475.25 539.85,475.78 543.31,476.32 546.77,476.86 550.24,477.41 553.70,477.97 557.16,478.53 560.62,479.10 564.08,479.68 567.54,480.27 571.01,480.86 574.47,481.46 577.93,482.06 581.39,482.68 584.85,483.30 588.31,483.92 591.78,484.56 595.24,485.20 598.70,485.85 602.16,486.51 605.62,487.17 609.08,487.84 612.55,488.52 616.01,489.21 619.47,489.90 622.93,490.60 626.39,491.31 629.85,492.03 633.32,492.76 636.78,493.49 640.24,494.23 643.70,494.98" fill="none" stroke="#111" stroke-width="2.3" stroke-linejoin="round" stroke-linecap="butt"/>
<polyline points="93.30,471.17 96.76,471.37 100.22,471.56 103.68,471.75 107.15,471.93 110.61,472.11 114.07,472.29 117.53,472.47 120.99,472.64 124.45,472.81 127.92,472.97 131.38,473.14 134.84,473.30 138.30,473.46 141.76,473.61 145.22,473.77 148.69,473.92 152.15,474.07 155.61,474.22 159.07,474.37 162.53,474.51 165.99,474.66 169.46,474.80 172.92,474.94 176.38,475.08 179.84,475.22 183.30,475.35 186.76,475.49 190.23,475.63 193.69,475.76 197.15,475.89 200.61,476.03 204.07,476.16 207.53,476.29 211.00,476.43 214.46,476.56 217.92,476.69 221.38,476.83 224.84,476.96 228.30,477.09 231.77,477.22 235.23,477.36 238.69,477.49 242.15,477.63 245.61,477.76 249.07,477.90 252.54,478.04 256.00,478.17 259.46,478.31 262.92,478.45 266.38,478.59 269.84,478.73 273.31,478.88 276.77,479.02 280.23,479.17 283.69,479.32 287.15,479.47 290.61,479.62 293.40,479.74" fill="none" stroke="#111" stroke-width="1.4" stroke-linejoin="round" stroke-linecap="butt"/>
<polyline points="293.40,479.74 294.07,479.77 297.54,479.92 301.00,480.08 304.46,480.24 307.92,480.40 311.38,480.56 314.84,480.72 318.31,480.89 321.77,481.06 325.23,481.23 328.69,481.40 332.15,481.58 335.61,481.76 339.08,481.94 342.54,482.12 346.00,482.31 349.46,482.50 352.92,482.69 356.38,482.88 359.85,483.08 363.31,483.28 366.77,483.48 370.23,483.69 373.69,483.90 377.15,484.11 380.62,484.32 384.08,484.54 387.54,484.76 391.00,484.99 394.46,485.22 397.92,485.45 401.39,485.69 404.85,485.92 408.31,486.17 411.77,486.41 415.23,486.66 418.69,486.91 422.16,487.17 425.62,487.43 429.08,487.70 432.54,487.96 436.00,488.23 439.46,488.51 442.93,488.79 446.39,489.07 449.85,489.36 453.31,489.65 456.77,489.94 460.23,490.24 463.69,490.55 467.16,490.85 470.62,491.16 474.08,491.48 477.54,491.80 481.00,492.12 484.46,492.45 487.93,492.78 491.39,493.11 494.85,493.45 498.31,493.80 501.77,494.15 505.23,494.50 508.70,494.85 512.16,495.22 515.62,495.58 519.08,495.95 522.54,496.32 526.00,496.70 529.47,497.08 532.93,497.47 536.39,497.86 539.85,498.25 543.31,498.65 546.77,499.06 550.24,499.46 553.70,499.88 557.16,500.29 560.62,500.71 564.08,501.14 567.54,501.57 571.01,502.00 574.47,502.44 577.93,502.88 581.39,503.32 584.85,503.77 588.31,504.23 591.78,504.69 595.24,505.15 598.70,505.62 602.16,506.09 605.62,506.56 609.08,507.04 612.55,507.53 616.01,508.01 619.47,508.51 622.93,509.00 626.39,509.50 629.85,510.00 633.32,510.51 636.78,511.02 640.24,511.54 643.70,512.06" fill="none" stroke="#111" stroke-width="2.3" stroke-linejoin="round" stroke-linecap="butt"/>
<polyline points="93.30,503.39 96.76,503.38 100.22,503.37 103.68,503.36 107.15,503.36 110.61,503.37 114.07,503.37 117.53,503.38 120.99,503.39 124.45,503.41 127.92,503.42 131.38,503.44 134.84,503.47 138.30,503.49 141.76,503.52 145.22,503.56 148.69,503.59 152.15,503.63 155.61,503.67 159.07,503.72 162.53,503.76 165.99,503.81 169.46,503.86 172.92,503.92 176.38,503.98 179.84,504.04 183.30,504.10 186.76,504.16 190.23,504.23 193.69,504.30 197.15,504.37 200.61,504.45 204.07,504.52 207.53,504.60 211.00,504.68 214.46,504.77 217.92,504.85 221.38,504.94 224.84,505.03 228.30,505.12 231.77,505.22 235.23,505.32 238.69,505.42 242.15,505.52 245.61,505.62 249.07,505.72 252.54,505.83 256.00,505.94 259.46,506.05 262.92,506.17 266.38,506.28 269.84,506.40 273.31,506.52 276.77,506.64 280.23,506.76 283.69,506.88 287.15,507.01 290.61,507.14 293.40,507.24" fill="none" stroke="#111" stroke-width="1.4" stroke-linejoin="round" stroke-linecap="butt"/>
<polyline points="293.40,507.24 294.07,507.27 297.54,507.40 301.00,507.54 304.46,507.67 307.92,507.81 311.38,507.95 314.84,508.09 318.31,508.23 321.77,508.38 325.23,508.53 328.69,508.67 332.15,508.82 335.61,508.98 339.08,509.13 342.54,509.28 346.00,509.44 349.46,509.60 352.92,509.76 356.38,509.92 359.85,510.09 363.31,510.26 366.77,510.42 370.23,510.59 373.69,510.76 377.15,510.94 380.62,511.11 384.08,511.29 387.54,511.47 391.00,511.65 394.46,511.83 397.92,512.01 401.39,512.20 404.85,512.39 408.31,512.58 411.77,512.77 415.23,512.96 418.69,513.16 422.16,513.35 425.62,513.55 429.08,513.75 432.54,513.96 436.00,514.16 439.46,514.37 442.93,514.58 446.39,514.79 449.85,515.00 453.31,515.21 456.77,515.43 460.23,515.65 463.69,515.87 467.16,516.09 470.62,516.32 474.08,516.55 477.54,516.78 481.00,517.01 484.46,517.24 487.93,517.48 491.39,517.72 494.85,517.96 498.31,518.20 501.77,518.45 505.23,518.69 508.70,518.94 512.16,519.20 515.62,519.45 519.08,519.71 522.54,519.97 526.00,520.23 529.47,520.50 532.93,520.77 536.39,521.04 539.85,521.31 543.31,521.59 546.77,521.86 550.24,522.15 553.70,522.43 557.16,522.72 560.62,523.01 564.08,523.30 567.54,523.60 571.01,523.90 574.47,524.20 577.93,524.50 581.39,524.81 584.85,525.12 588.31,525.44 591.78,525.76 595.24,526.08 598.70,526.40 602.16,526.73 605.62,527.06 609.08,527.40 612.55,527.74 616.01,528.08 619.47,528.42 622.93,528.77 626.39,529.13 629.85,529.48 633.32,529.85 636.78,530.21 640.24,530.58 643.70,530.95" fill="none" stroke="#111" stroke-width="2.3" stroke-linejoin="round" stroke-linecap="butt"/>
<line x1="92.45" y1="668.30" x2="692.55" y2="668.30" stroke="#333" stroke-width="1.3"/>
<line x1="92.45" y1="691.20" x2="692.55" y2="691.20" stroke="#333" stroke-width="1.3"/>
<line x1="92.45" y1="713.90" x2="692.55" y2="713.90" stroke="#333" stroke-width="1.3"/>
<line x1="92.45" y1="736.60" x2="692.55" y2="736.60" stroke="#333" stroke-width="1.3"/>
<line x1="92.45" y1="759.60" x2="692.55" y2="759.60" stroke="#333" stroke-width="1.3"/>
<line x1="92.45" y1="783.30" x2="692.55" y2="783.30" stroke="#333" stroke-width="1.3"/>
<line x1="93.30" y1="668.30" x2="93.30" y2="783.30" stroke="#333" stroke-width="1.7"/>
<line x1="143.17" y1="668.30" x2="143.17" y2="783.30" stroke="#333" stroke-width="1.7"/>
<line x1="193.03" y1="668.30" x2="193.03" y2="783.30" stroke="#333" stroke-width="1.7"/>
<line x1="242.90" y1="668.30" x2="242.90" y2="783.30" stroke="#333" stroke-width="1.7"/>
<line x1="292.77" y1="668.30" x2="292.77" y2="783.30" stroke="#333" stroke-width="1.7"/>
<line x1="342.63" y1="668.30" x2="342.63" y2="783.30" stroke="#333" stroke-width="1.7"/>
<line x1="392.50" y1="668.30" x2="392.50" y2="783.30" stroke="#333" stroke-width="1.7"/>
<line x1="442.37" y1="668.30" x2="442.37" y2="783.30" stroke="#333" stroke-width="1.7"/>
<line x1="492.23" y1="668.30" x2="492.23" y2="783.30" stroke="#333" stroke-width="1.7"/>
<line x1="542.10" y1="668.30" x2="542.10" y2="783.30" stroke="#333" stroke-width="1.7"/>
<line x1="591.97" y1="668.30" x2="591.97" y2="783.30" stroke="#333" stroke-width="1.7"/>
<line x1="641.83" y1="668.30" x2="641.83" y2="783.30" stroke="#333" stroke-width="1.7"/>
<line x1="691.70" y1="668.30" x2="691.70" y2="783.30" stroke="#333" stroke-width="1.7"/>
<line x1="44.00" y1="666.00" x2="44.00" y2="784.00" stroke="#333" stroke-width="1.3"/>
<line x1="34.60" y1="783.30" x2="44.00" y2="783.30" stroke="#333" stroke-width="1.3"/>
<line x1="34.60" y1="761.60" x2="44.00" y2="761.60" stroke="#333" stroke-width="1.3"/>
<line x1="34.60" y1="740.50" x2="44.00" y2="740.50" stroke="#333" stroke-width="1.3"/>
<line x1="34.60" y1="718.90" x2="44.00" y2="718.90" stroke="#333" stroke-width="1.3"/>
<line x1="34.60" y1="697.60" x2="44.00" y2="697.60" stroke="#333" stroke-width="1.3"/>
<line x1="34.60" y1="675.70" x2="44.00" y2="675.70" stroke="#333" stroke-width="1.3"/>
<polyline points="93.30,783.00 97.25,780.15 101.19,777.40 105.14,774.76 109.09,772.23 113.04,769.84 116.98,767.57 120.93,765.44 124.88,763.43 128.83,761.51 132.77,759.68 136.72,757.92 140.67,756.21 144.62,754.54 148.56,752.94 152.51,751.39 156.46,749.89 160.41,748.41 164.35,746.95 168.30,745.49 172.25,744.03 176.20,742.59 180.14,741.17 184.09,739.77 188.04,738.41 191.99,737.07 195.93,735.77 199.88,734.49 203.83,733.23 207.78,732.00 211.72,730.79 215.67,729.62 219.62,728.47 223.57,727.34 227.51,726.24 231.46,725.15 235.41,724.11 239.36,723.11 243.30,722.16 247.25,721.25 251.20,720.38 255.15,719.53 259.09,718.72 263.04,717.95 266.99,717.21 270.94,716.51 274.88,715.84 278.83,715.20 282.78,714.58 286.73,713.99 290.67,713.43 293.40,713.06" fill="none" stroke="#111" stroke-width="1.4" stroke-linejoin="round" stroke-linecap="butt"/>
<polyline points="293.40,713.06 294.62,712.90 298.57,712.38 302.52,711.88 306.46,711.39 310.41,710.91 314.36,710.45 318.31,710.00 322.25,709.56 326.20,709.13 330.15,708.71 334.10,708.30 338.04,707.90 341.99,707.51 345.94,707.13 349.89,706.75 353.83,706.38 357.78,706.02 361.73,705.67 365.68,705.32 369.62,704.98 373.57,704.65 377.52,704.33 381.47,704.01 385.41,703.70 389.36,703.39 393.31,703.09 397.26,702.79 401.20,702.49 405.15,702.19 409.10,701.89 413.05,701.59 416.99,701.31 420.94,701.03 424.89,700.77 428.84,700.52 432.78,700.29 436.73,700.08 440.68,699.89 444.63,699.72 448.57,699.55 452.52,699.37 456.47,699.22 460.42,699.08 464.36,698.97 468.31,698.91 472.26,698.90 476.21,698.93 480.15,699.00 484.10,699.08 488.05,699.18 492.00,699.29 495.94,699.40 499.89,699.54 503.84,699.71 507.79,699.90 511.73,700.11 515.68,700.33 519.63,700.58 523.58,700.83 527.52,701.10 531.47,701.38 535.42,701.66 539.37,701.95 543.31,702.24 547.26,702.55 551.21,702.88 555.16,703.24 559.10,703.62 563.05,704.02 567.00,704.43 570.95,704.85 574.89,705.28 578.84,705.71 582.79,706.15 586.74,706.58 590.68,707.01 594.63,707.44 598.58,707.87 602.53,708.30 606.47,708.74 610.42,709.18 614.37,709.63 618.32,710.09 622.26,710.54 626.21,711.01 630.16,711.47 634.11,711.94 638.05,712.42 642.00,712.90" fill="none" stroke="#111" stroke-width="2.3" stroke-linejoin="round" stroke-linecap="butt"/>
<polyline points="93.30,766.20 97.25,766.04 101.19,765.86 105.14,765.68 109.09,765.49 113.04,765.29 116.98,765.08 120.93,764.87 124.88,764.65 128.83,764.42 132.77,764.18 136.72,763.94 140.67,763.69 144.62,763.44 148.56,763.16 152.51,762.87 156.46,762.57 160.41,762.26 164.35,761.93 168.30,761.60 172.25,761.27 176.20,760.93 180.14,760.60 184.09,760.26 188.04,759.94 191.99,759.62 195.93,759.30 199.88,758.98 203.83,758.66 207.78,758.34 211.72,758.02 215.67,757.70 219.62,757.38 223.57,757.06 227.51,756.75 231.46,756.43 235.41,756.13 239.36,755.82 243.30,755.52 247.25,755.24 251.20,754.96 255.15,754.69 259.09,754.42 263.04,754.15 266.99,753.89 270.94,753.62 274.88,753.35 278.83,753.08 282.78,752.79 286.73,752.50 290.67,752.20 293.40,751.98" fill="none" stroke="#111" stroke-width="1.4" stroke-linejoin="round" stroke-linecap="butt"/>
<polyline points="293.40,751.98 294.62,751.87 298.57,751.53 302.52,751.18 306.46,750.81 310.41,750.42 314.36,750.03 318.31,749.64 322.25,749.24 326.20,748.84 330.15,748.44 334.10,748.06 338.04,747.68 341.99,747.31 345.94,746.95 349.89,746.60 353.83,746.25 357.78,745.90 361.73,745.55 365.68,745.21 369.62,744.87 373.57,744.53 377.52,744.20 381.47,743.87 385.41,743.54 389.36,743.21 393.31,742.88 397.26,742.55 401.20,742.22 405.15,741.89 409.10,741.55 413.05,741.22 416.99,740.89 420.94,740.57 424.89,740.26 428.84,739.95 432.78,739.66 436.73,739.39 440.68,739.13 444.63,738.88 448.57,738.65 452.52,738.43 456.47,738.22 460.42,738.01 464.36,737.81 468.31,737.62 472.26,737.43 476.21,737.24 480.15,737.06 484.10,736.88 488.05,736.70 492.00,736.52 495.94,736.34 499.89,736.17 503.84,736.00 507.79,735.83 511.73,735.66 515.68,735.50 519.63,735.34 523.58,735.17 527.52,735.01 531.47,734.86 535.42,734.70 539.37,734.54 543.31,734.38 547.26,734.21 551.21,734.04 555.16,733.87 559.10,733.69 563.05,733.51 567.00,733.34 570.95,733.17 574.89,733.01 578.84,732.86 582.79,732.73 586.74,732.61 590.68,732.52 594.63,732.44 598.58,732.36 602.53,732.28 606.47,732.20 610.42,732.13 614.37,732.06 618.32,732.00 622.26,731.95 626.21,731.90 630.16,731.86 634.11,731.83 638.05,731.81 642.00,731.80" fill="none" stroke="#111" stroke-width="2.3" stroke-linejoin="round" stroke-linecap="butt"/>
<line x1="92.45" y1="881.00" x2="692.65" y2="881.00" stroke="#333" stroke-width="1.3"/>
<line x1="92.45" y1="898.00" x2="692.65" y2="898.00" stroke="#333" stroke-width="1.3"/>
<line x1="92.45" y1="915.20" x2="692.65" y2="915.20" stroke="#333" stroke-width="1.3"/>
<line x1="92.45" y1="932.10" x2="692.65" y2="932.10" stroke="#333" stroke-width="1.3"/>
<line x1="92.45" y1="949.20" x2="692.65" y2="949.20" stroke="#333" stroke-width="1.3"/>
<line x1="92.45" y1="966.00" x2="692.65" y2="966.00" stroke="#333" stroke-width="1.3"/>
<line x1="93.30" y1="881.00" x2="93.30" y2="966.00" stroke="#333" stroke-width="1.7"/>
<line x1="143.18" y1="881.00" x2="143.18" y2="966.00" stroke="#333" stroke-width="1.7"/>
<line x1="193.05" y1="881.00" x2="193.05" y2="966.00" stroke="#333" stroke-width="1.7"/>
<line x1="242.93" y1="881.00" x2="242.93" y2="966.00" stroke="#333" stroke-width="1.7"/>
<line x1="292.80" y1="881.00" x2="292.80" y2="966.00" stroke="#333" stroke-width="1.7"/>
<line x1="342.68" y1="881.00" x2="342.68" y2="966.00" stroke="#333" stroke-width="1.7"/>
<line x1="392.55" y1="881.00" x2="392.55" y2="966.00" stroke="#333" stroke-width="1.7"/>
<line x1="442.43" y1="881.00" x2="442.43" y2="966.00" stroke="#333" stroke-width="1.7"/>
<line x1="492.30" y1="881.00" x2="492.30" y2="966.00" stroke="#333" stroke-width="1.7"/>
<line x1="542.17" y1="881.00" x2="542.17" y2="966.00" stroke="#333" stroke-width="1.7"/>
<line x1="592.05" y1="881.00" x2="592.05" y2="966.00" stroke="#333" stroke-width="1.7"/>
<line x1="641.92" y1="881.00" x2="641.92" y2="966.00" stroke="#333" stroke-width="1.7"/>
<line x1="691.80" y1="881.00" x2="691.80" y2="966.00" stroke="#333" stroke-width="1.7"/>
<line x1="44.00" y1="880.60" x2="44.00" y2="967.00" stroke="#333" stroke-width="1.3"/>
<line x1="36.60" y1="966.30" x2="44.00" y2="966.30" stroke="#333" stroke-width="1.3"/>
<line x1="36.60" y1="944.30" x2="44.00" y2="944.30" stroke="#333" stroke-width="1.3"/>
<line x1="36.60" y1="921.30" x2="44.00" y2="921.30" stroke="#333" stroke-width="1.3"/>
<line x1="36.60" y1="900.90" x2="44.00" y2="900.90" stroke="#333" stroke-width="1.3"/>
<rect x="189.5" y="881.9" width="8" height="15.2" fill="#fff"/>
<polyline points="93.30,904.90 97.27,904.90 101.23,904.90 105.20,904.91 109.16,904.91 113.13,904.92 117.10,904.93 121.06,904.94 125.03,904.95 129.00,904.96 132.96,904.97 136.93,904.98 140.89,905.00 144.86,905.01 148.83,905.05 152.79,905.09 156.76,905.15 160.73,905.21 164.69,905.28 168.66,905.36 172.62,905.44 176.59,905.52 180.56,905.60 184.52,905.67 188.49,905.74 192.45,905.80 196.42,905.86 200.39,905.92 204.35,905.98 208.32,906.03 212.29,906.09 216.25,906.14 220.22,906.20 224.18,906.25 228.15,906.30 232.12,906.36 236.08,906.41 240.05,906.47 244.02,906.52 247.98,906.58 251.95,906.64 255.91,906.69 259.88,906.75 263.85,906.80 267.81,906.86 271.78,906.91 275.74,906.97 279.71,907.03 283.68,907.08 287.64,907.14 291.61,907.19 293.40,907.21" fill="none" stroke="#111" stroke-width="1.4" stroke-linejoin="round" stroke-linecap="butt"/>
<polyline points="293.40,907.21 295.58,907.24 299.54,907.29 303.51,907.34 307.47,907.38 311.44,907.42 315.41,907.47 319.37,907.51 323.34,907.56 327.31,907.61 331.27,907.67 335.24,907.73 339.20,907.80 343.17,907.88 347.14,907.98 351.10,908.12 355.07,908.29 359.03,908.50 363.00,908.72 366.97,908.97 370.93,909.24 374.90,909.51 378.87,909.80 382.83,910.09 386.80,910.37 390.76,910.65 394.73,910.93 398.70,911.21 402.66,911.50 406.63,911.80 410.59,912.10 414.56,912.42 418.53,912.74 422.49,913.07 426.46,913.40 430.43,913.74 434.39,914.08 438.36,914.42 442.32,914.77 446.29,915.11 450.26,915.47 454.22,915.82 458.19,916.18 462.16,916.55 466.12,916.92 470.09,917.30 474.05,917.68 478.02,918.07 481.99,918.46 485.95,918.86 489.92,919.27 493.88,919.68 497.85,920.11 501.82,920.56 505.78,921.02 509.75,921.49 513.72,921.97 517.68,922.46 521.65,922.94 525.61,923.42 529.58,923.90 533.55,924.36 537.51,924.82 541.48,925.26 545.45,925.69 549.41,926.13 553.38,926.59 557.34,927.05 561.31,927.51 565.28,927.96 569.24,928.39 573.21,928.80 577.17,929.18 581.14,929.53 585.11,929.83 589.07,930.08 593.04,930.27 597.01,930.46 600.97,930.63 604.94,930.79 608.90,930.91 612.87,930.98 616.84,931.00 620.80,931.00 624.77,930.99 628.74,930.98 632.70,930.96 636.67,930.92 640.63,930.87 644.60,930.80" fill="none" stroke="#111" stroke-width="2.3" stroke-linejoin="round" stroke-linecap="butt"/>
<polyline points="93.30,961.30 97.26,960.98 101.23,960.70 105.19,960.48 109.15,960.27 113.12,960.09 117.08,960.00 121.04,960.00 125.01,960.00 128.97,960.00 132.93,960.00 136.90,960.00 140.86,960.00 144.82,960.00 148.79,960.00 152.75,960.00 156.71,960.00 160.68,960.00 164.64,960.00 168.60,960.00 172.57,960.00 176.53,960.00 180.49,960.00 184.46,960.00 188.42,960.00 192.38,960.00 196.35,960.00 200.31,960.01 204.27,960.01 208.24,960.02 212.20,960.03 216.16,960.04 220.13,960.06 224.09,960.07 228.05,960.09 232.02,960.10 235.98,960.12 239.94,960.14 243.91,960.16 247.87,960.18 251.83,960.19 255.80,960.21 259.76,960.23 263.72,960.24 267.69,960.25 271.65,960.27 275.61,960.28 279.58,960.29 283.54,960.29 287.50,960.30 291.47,960.30 293.40,960.30" fill="none" stroke="#111" stroke-width="1.4" stroke-linejoin="round" stroke-linecap="butt"/>
<polyline points="293.40,960.30 295.43,960.30 299.39,960.30 303.36,960.30 307.32,960.30 311.28,960.30 315.25,960.30 319.21,960.30 323.17,960.30 327.14,960.30 331.10,960.30 335.06,960.30 339.03,960.30 342.99,960.30 346.95,960.30 350.92,960.30 354.88,960.30 358.84,960.30 362.81,960.30 366.77,960.30 370.73,960.30 374.69,960.30 378.66,960.30 382.62,960.30 386.58,960.30 390.55,960.30 394.51,960.30 398.47,960.25 402.44,960.16 406.40,960.04 410.36,959.89 414.33,959.74 418.29,959.58 422.25,959.39 426.22,959.16 430.18,958.89 434.14,958.61 438.11,958.32 442.07,958.04 446.03,957.77 450.00,957.51 453.96,957.23 457.92,956.95 461.89,956.66 465.85,956.35 469.81,956.01 473.78,955.64 477.74,955.26 481.70,954.85 485.67,954.42 489.63,953.99 493.59,953.54 497.56,953.09 501.52,952.62 505.48,952.13 509.45,951.62 513.41,951.09 517.37,950.53 521.34,949.96 525.30,949.36 529.26,948.73 533.23,948.08 537.19,947.38 541.15,946.63 545.12,945.82 549.08,944.94 553.04,943.99 557.01,942.97 560.97,941.88 564.93,940.72 568.90,939.48 572.86,938.11 576.82,936.64 580.79,935.09 584.75,933.48 588.71,931.85 592.68,930.21 596.64,928.53 600.60,926.80 604.57,925.03 608.53,923.21 612.49,921.36 616.46,919.49 620.42,917.58 624.38,915.61 628.35,913.55 632.31,911.37 636.27,909.08 640.24,906.69 644.20,904.20" fill="none" stroke="#111" stroke-width="2.3" stroke-linejoin="round" stroke-linecap="butt"/>
</g>
<g filter="url(#txt)">
<text class="s" transform="translate(83.40,568.70) scale(1.02,1.0)" font-size="16.6" text-anchor="end" fill="#111" stroke="#111" stroke-width="0.6">0</text>
<text class="s" transform="translate(83.40,548.59) scale(1.02,1.0)" font-size="16.6" text-anchor="end" fill="#111" stroke="#111" stroke-width="0.6">10</text>
<text class="s" transform="translate(83.40,528.48) scale(1.02,1.0)" font-size="16.6" text-anchor="end" fill="#111" stroke="#111" stroke-width="0.6">20</text>
<text class="s" transform="translate(83.40,508.38) scale(1.02,1.0)" font-size="16.6" text-anchor="end" fill="#111" stroke="#111" stroke-width="0.6">30</text>
<text class="s" transform="translate(83.40,488.27) scale(1.02,1.0)" font-size="16.6" text-anchor="end" fill="#111" stroke="#111" stroke-width="0.6">40</text>
<text class="s" transform="translate(83.40,468.16) scale(1.02,1.0)" font-size="16.6" text-anchor="end" fill="#111" stroke="#111" stroke-width="0.6">50</text>
<text class="s" transform="translate(83.40,448.05) scale(1.02,1.0)" font-size="16.6" text-anchor="end" fill="#111" stroke="#111" stroke-width="0.6">60</text>
<text class="s" transform="translate(83.40,427.95) scale(1.02,1.0)" font-size="16.6" text-anchor="end" fill="#111" stroke="#111" stroke-width="0.6">70</text>
<text class="s" transform="translate(83.40,407.84) scale(1.02,1.0)" font-size="16.6" text-anchor="end" fill="#111" stroke="#111" stroke-width="0.6">80</text>
<text class="s" transform="translate(83.40,387.73) scale(1.02,1.0)" font-size="16.6" text-anchor="end" fill="#111" stroke="#111" stroke-width="0.6">90</text>
<text class="s" transform="translate(83.40,367.62) scale(1.02,1.0)" font-size="16.6" text-anchor="end" fill="#111" stroke="#111" stroke-width="0.6">100</text>
<text class="s" transform="translate(83.40,347.52) scale(1.02,1.0)" font-size="16.6" text-anchor="end" fill="#111" stroke="#111" stroke-width="0.6">110</text>
<text class="s" transform="translate(83.40,327.41) scale(1.02,1.0)" font-size="16.6" text-anchor="end" fill="#111" stroke="#111" stroke-width="0.6">120</text>
<text class="s" transform="translate(83.40,307.30) scale(1.02,1.0)" font-size="16.6" text-anchor="end" fill="#111" stroke="#111" stroke-width="0.6">130</text>
<text class="s" transform="translate(83.40,287.19) scale(1.02,1.0)" font-size="16.6" text-anchor="end" fill="#111" stroke="#111" stroke-width="0.6">140</text>
<text class="s" transform="translate(83.40,267.08) scale(1.02,1.0)" font-size="16.6" text-anchor="end" fill="#111" stroke="#111" stroke-width="0.6">150</text>
<text class="s" transform="translate(83.40,246.98) scale(1.02,1.0)" font-size="16.6" text-anchor="end" fill="#111" stroke="#111" stroke-width="0.6">160</text>
<text class="s" transform="translate(83.40,226.87) scale(1.02,1.0)" font-size="16.6" text-anchor="end" fill="#111" stroke="#111" stroke-width="0.6">170</text>
<text class="s" transform="translate(83.40,206.76) scale(1.02,1.0)" font-size="16.6" text-anchor="end" fill="#111" stroke="#111" stroke-width="0.6">180</text>
<text class="s" transform="translate(83.40,186.65) scale(1.02,1.0)" font-size="16.6" text-anchor="end" fill="#111" stroke="#111" stroke-width="0.6">190</text>
<text class="s" transform="translate(83.40,166.55) scale(1.02,1.0)" font-size="16.6" text-anchor="end" fill="#111" stroke="#111" stroke-width="0.6">200</text>
<text class="s" transform="translate(83.40,146.44) scale(1.02,1.0)" font-size="16.6" text-anchor="end" fill="#111" stroke="#111" stroke-width="0.6">210</text>
<text class="s" transform="translate(83.40,126.33) scale(1.02,1.0)" font-size="16.6" text-anchor="end" fill="#111" stroke="#111" stroke-width="0.6">220</text>
<text class="s" transform="translate(83.40,106.22) scale(1.02,1.0)" font-size="16.6" text-anchor="end" fill="#111" stroke="#111" stroke-width="0.6">230</text>
<text class="s" transform="translate(83.40,86.12) scale(1.02,1.0)" font-size="16.6" text-anchor="end" fill="#111" stroke="#111" stroke-width="0.6">240</text>
<text class="s" transform="translate(83.40,66.01) scale(1.02,1.0)" font-size="16.6" text-anchor="end" fill="#111" stroke="#111" stroke-width="0.6">250</text>
<text class="s" transform="translate(30.80,568.90) scale(1.02,1.0)" font-size="16.6" text-anchor="end" fill="#111" stroke="#111" stroke-width="0.6">0.0</text>
<text class="s" transform="translate(30.80,528.32) scale(1.02,1.0)" font-size="16.6" text-anchor="end" fill="#111" stroke="#111" stroke-width="0.6">0.2</text>
<text class="s" transform="translate(30.80,487.74) scale(1.02,1.0)" font-size="16.6" text-anchor="end" fill="#111" stroke="#111" stroke-width="0.6">0.4</text>
<text class="s" transform="translate(30.80,447.16) scale(1.02,1.0)" font-size="16.6" text-anchor="end" fill="#111" stroke="#111" stroke-width="0.6">0.6</text>
<text class="s" transform="translate(30.80,406.58) scale(1.02,1.0)" font-size="16.6" text-anchor="end" fill="#111" stroke="#111" stroke-width="0.6">0.8</text>
<text class="s" transform="translate(30.80,366.00) scale(1.02,1.0)" font-size="16.6" text-anchor="end" fill="#111" stroke="#111" stroke-width="0.6">1.0</text>
<text class="s" transform="translate(30.80,325.42) scale(1.02,1.0)" font-size="16.6" text-anchor="end" fill="#111" stroke="#111" stroke-width="0.6">1.2</text>
<text class="s" transform="translate(30.80,284.84) scale(1.02,1.0)" font-size="16.6" text-anchor="end" fill="#111" stroke="#111" stroke-width="0.6">1.4</text>
<text class="s" transform="translate(30.80,244.26) scale(1.02,1.0)" font-size="16.6" text-anchor="end" fill="#111" stroke="#111" stroke-width="0.6">1.6</text>
<text class="s" transform="translate(30.80,203.68) scale(1.02,1.0)" font-size="16.6" text-anchor="end" fill="#111" stroke="#111" stroke-width="0.6">1.8</text>
<text class="s" transform="translate(30.80,163.10) scale(1.02,1.0)" font-size="16.6" text-anchor="end" fill="#111" stroke="#111" stroke-width="0.6">2.0</text>
<text class="s" transform="translate(30.80,122.52) scale(1.02,1.0)" font-size="16.6" text-anchor="end" fill="#111" stroke="#111" stroke-width="0.6">2.2</text>
<text class="s" transform="translate(30.80,81.94) scale(1.02,1.0)" font-size="16.6" text-anchor="end" fill="#111" stroke="#111" stroke-width="0.6">2.4</text>
<text class="a" transform="translate(47.80,16.60) scale(1.0,1.0)" font-size="17" text-anchor="middle" fill="#111" stroke="#111" stroke-width="0.7">P</text>
<text class="a" transform="translate(79.70,16.60) scale(1.0,1.0)" font-size="17" text-anchor="middle" fill="#111" stroke="#111" stroke-width="0.7">H</text>
<text class="a" transform="translate(44.20,33.70) scale(0.96,1.0)" font-size="17" text-anchor="middle" fill="#111" stroke="#111" stroke-width="0.7">[Mpa]</text>
<text class="a" transform="translate(79.10,33.70) scale(1.0,1.0)" font-size="17" text-anchor="middle" fill="#111" stroke="#111" stroke-width="0.7">[m]</text>
<text class="a" transform="translate(694.80,30.30) scale(1.005,1.0)" font-size="17" text-anchor="end" fill="#111" stroke="#111" stroke-width="0.2">[50HZ]CDL/CDLF16</text>
<text class="s" transform="translate(93.70,582.00) scale(1.02,1.0)" font-size="16.6" text-anchor="middle" fill="#111" stroke="#111" stroke-width="0.6">0</text>
<text class="s" transform="translate(143.50,582.00) scale(1.02,1.0)" font-size="16.6" text-anchor="middle" fill="#111" stroke="#111" stroke-width="0.6">2</text>
<text class="s" transform="translate(189.20,582.00) scale(1.02,1.0)" font-size="16.6" text-anchor="middle" fill="#111" stroke="#111" stroke-width="0.6">4</text>
<text class="s" transform="translate(239.80,582.00) scale(1.02,1.0)" font-size="16.6" text-anchor="middle" fill="#111" stroke="#111" stroke-width="0.6">6</text>
<text class="s" transform="translate(286.10,582.00) scale(1.02,1.0)" font-size="16.6" text-anchor="middle" fill="#111" stroke="#111" stroke-width="0.6">8</text>
<text class="s" transform="translate(337.20,582.00) scale(1.02,1.0)" font-size="16.6" text-anchor="middle" fill="#111" stroke="#111" stroke-width="0.6">10</text>
<text class="s" transform="translate(387.50,582.00) scale(1.02,1.0)" font-size="16.6" text-anchor="middle" fill="#111" stroke="#111" stroke-width="0.6">12</text>
<text class="s" transform="translate(432.90,582.00) scale(1.02,1.0)" font-size="16.6" text-anchor="middle" fill="#111" stroke="#111" stroke-width="0.6">14</text>
<text class="s" transform="translate(483.50,582.00) scale(1.02,1.0)" font-size="16.6" text-anchor="middle" fill="#111" stroke="#111" stroke-width="0.6">16</text>
<text class="s" transform="translate(529.50,582.00) scale(1.02,1.0)" font-size="16.6" text-anchor="middle" fill="#111" stroke="#111" stroke-width="0.6">18</text>
<text class="s" transform="translate(579.50,582.00) scale(1.02,1.0)" font-size="16.6" text-anchor="middle" fill="#111" stroke="#111" stroke-width="0.6">20</text>
<text class="s" transform="translate(625.90,582.00) scale(1.02,1.0)" font-size="16.6" text-anchor="middle" fill="#111" stroke="#111" stroke-width="0.6">22</text>
<text class="a" transform="translate(657.00,582.10) scale(1.0,1.0)" font-size="17" text-anchor="start" fill="#111" stroke="#111" stroke-width="0.7">Q[m/h]</text>
<text class="a" x="691" y="571" font-size="5" fill="#333">3</text>
<text class="s" transform="translate(99.20,90.00) scale(1.02,1.0)" font-size="17" text-anchor="start" fill="#111" stroke="#111" stroke-width="0.6">-160</text>
<text class="s" transform="translate(99.20,114.60) scale(1.02,1.0)" font-size="17" text-anchor="start" fill="#111" stroke="#111" stroke-width="0.6">-150</text>
<text class="s" transform="translate(99.20,152.40) scale(1.02,1.0)" font-size="17" text-anchor="start" fill="#111" stroke="#111" stroke-width="0.6">-140</text>
<text class="s" transform="translate(99.20,177.40) scale(1.02,1.0)" font-size="17" text-anchor="start" fill="#111" stroke="#111" stroke-width="0.6">-130</text>
<text class="s" transform="translate(99.20,200.00) scale(1.02,1.0)" font-size="17" text-anchor="start" fill="#111" stroke="#111" stroke-width="0.6">-120</text>
<text class="s" transform="translate(99.20,236.30) scale(1.02,1.0)" font-size="17" text-anchor="start" fill="#111" stroke="#111" stroke-width="0.6">-110</text>
<text class="s" transform="translate(99.20,267.50) scale(1.02,1.0)" font-size="17" text-anchor="start" fill="#111" stroke="#111" stroke-width="0.6">-100</text>
<text class="s" transform="translate(99.20,297.60) scale(1.02,1.0)" font-size="17" text-anchor="start" fill="#111" stroke="#111" stroke-width="0.6">-90</text>
<text class="s" transform="translate(99.20,330.00) scale(1.02,1.0)" font-size="17" text-anchor="start" fill="#111" stroke="#111" stroke-width="0.6">-80</text>
<text class="s" transform="translate(99.20,358.30) scale(1.02,1.0)" font-size="17" text-anchor="start" fill="#111" stroke="#111" stroke-width="0.6">-70</text>
<text class="s" transform="translate(99.20,387.50) scale(1.02,1.0)" font-size="17" text-anchor="start" fill="#111" stroke="#111" stroke-width="0.6">-60</text>
<text class="s" transform="translate(99.20,414.30) scale(1.02,1.0)" font-size="17" text-anchor="start" fill="#111" stroke="#111" stroke-width="0.6">-50</text>
<text class="s" transform="translate(99.20,441.30) scale(1.02,1.0)" font-size="17" text-anchor="start" fill="#111" stroke="#111" stroke-width="0.6">-40</text>
<text class="s" transform="translate(99.20,470.00) scale(1.02,1.0)" font-size="17" text-anchor="start" fill="#111" stroke="#111" stroke-width="0.6">-30</text>
<text class="s" transform="translate(99.20,499.30) scale(1.02,1.0)" font-size="17" text-anchor="start" fill="#111" stroke="#111" stroke-width="0.6">-20</text>
<text class="s" transform="translate(31.00,789.50) scale(1.02,1.0)" font-size="16.6" text-anchor="end" fill="#111" stroke="#111" stroke-width="0.6">0.0</text>
<text class="s" transform="translate(31.00,767.80) scale(1.02,1.0)" font-size="16.6" text-anchor="end" fill="#111" stroke="#111" stroke-width="0.6">0.5</text>
<text class="s" transform="translate(31.00,746.70) scale(1.02,1.0)" font-size="16.6" text-anchor="end" fill="#111" stroke="#111" stroke-width="0.6">1.0</text>
<text class="s" transform="translate(31.00,725.10) scale(1.02,1.0)" font-size="16.6" text-anchor="end" fill="#111" stroke="#111" stroke-width="0.6">1.5</text>
<text class="s" transform="translate(31.00,703.80) scale(1.02,1.0)" font-size="16.6" text-anchor="end" fill="#111" stroke="#111" stroke-width="0.6">2.0</text>
<text class="s" transform="translate(31.00,681.90) scale(1.02,1.0)" font-size="16.6" text-anchor="end" fill="#111" stroke="#111" stroke-width="0.6">2.5</text>
<text class="s" transform="translate(82.40,789.70) scale(1.02,1.0)" font-size="16.6" text-anchor="end" fill="#111" stroke="#111" stroke-width="0.6">0.0</text>
<text class="s" transform="translate(82.40,766.00) scale(1.02,1.0)" font-size="16.6" text-anchor="end" fill="#111" stroke="#111" stroke-width="0.6">0.4</text>
<text class="s" transform="translate(82.40,742.90) scale(1.02,1.0)" font-size="16.6" text-anchor="end" fill="#111" stroke="#111" stroke-width="0.6">0.8</text>
<text class="s" transform="translate(82.40,719.80) scale(1.02,1.0)" font-size="16.6" text-anchor="end" fill="#111" stroke="#111" stroke-width="0.6">1.2</text>
<text class="s" transform="translate(82.40,696.50) scale(1.02,1.0)" font-size="16.6" text-anchor="end" fill="#111" stroke="#111" stroke-width="0.6">1.6</text>
<text class="s" transform="translate(700.60,788.90) scale(1.02,1.0)" font-size="16.6" text-anchor="start" fill="#111" stroke="#111" stroke-width="0.6">0</text>
<text class="s" transform="translate(700.60,765.20) scale(1.02,1.0)" font-size="16.6" text-anchor="start" fill="#111" stroke="#111" stroke-width="0.6">20</text>
<text class="s" transform="translate(700.60,742.20) scale(1.02,1.0)" font-size="16.6" text-anchor="start" fill="#111" stroke="#111" stroke-width="0.6">40</text>
<text class="s" transform="translate(700.60,719.50) scale(1.02,1.0)" font-size="16.6" text-anchor="start" fill="#111" stroke="#111" stroke-width="0.6">60</text>
<text class="s" transform="translate(700.60,696.80) scale(1.02,1.0)" font-size="16.6" text-anchor="start" fill="#111" stroke="#111" stroke-width="0.6">80</text>
<text class="a" transform="translate(46.20,644.70) scale(1.0,1.0)" font-size="17" text-anchor="middle" fill="#111" stroke="#111" stroke-width="0.7">P2</text>
<text class="a" transform="translate(78.20,644.70) scale(1.0,1.0)" font-size="17" text-anchor="middle" fill="#111" stroke="#111" stroke-width="0.7">P2</text>
<text class="a" transform="translate(42.10,661.80) scale(1.0,1.0)" font-size="17" text-anchor="middle" fill="#111" stroke="#111" stroke-width="0.7">[Hp]</text>
<text class="a" transform="translate(75.40,661.80) scale(1.0,1.0)" font-size="17" text-anchor="middle" fill="#111" stroke="#111" stroke-width="0.7">[kW]</text>
<text class="a" transform="translate(713.00,660.00) scale(1.0,1.0)" font-size="17" text-anchor="end" fill="#111" stroke="#111" stroke-width="0.7">Eta[%]</text>
<text class="a" transform="translate(603.60,705.00) scale(1.0,1.0)" font-size="16" text-anchor="start" fill="#111" stroke="#111" stroke-width="0.7">Eta</text>
<text class="a" transform="translate(606.20,755.50) scale(0.96,1.0)" font-size="17.3" text-anchor="start" fill="#111" stroke="#111" stroke-width="0.7">P2</text>
<text class="s" transform="translate(93.70,803.90) scale(1.02,1.0)" font-size="16.6" text-anchor="middle" fill="#111" stroke="#111" stroke-width="0.6">0</text>
<text class="s" transform="translate(143.50,803.90) scale(1.02,1.0)" font-size="16.6" text-anchor="middle" fill="#111" stroke="#111" stroke-width="0.6">2</text>
<text class="s" transform="translate(189.20,803.90) scale(1.02,1.0)" font-size="16.6" text-anchor="middle" fill="#111" stroke="#111" stroke-width="0.6">4</text>
<text class="s" transform="translate(239.80,803.90) scale(1.02,1.0)" font-size="16.6" text-anchor="middle" fill="#111" stroke="#111" stroke-width="0.6">6</text>
<text class="s" transform="translate(286.10,803.90) scale(1.02,1.0)" font-size="16.6" text-anchor="middle" fill="#111" stroke="#111" stroke-width="0.6">8</text>
<text class="s" transform="translate(337.20,803.90) scale(1.02,1.0)" font-size="16.6" text-anchor="middle" fill="#111" stroke="#111" stroke-width="0.6">10</text>
<text class="s" transform="translate(387.50,803.90) scale(1.02,1.0)" font-size="16.6" text-anchor="middle" fill="#111" stroke="#111" stroke-width="0.6">12</text>
<text class="s" transform="translate(432.90,803.90) scale(1.02,1.0)" font-size="16.6" text-anchor="middle" fill="#111" stroke="#111" stroke-width="0.6">14</text>
<text class="s" transform="translate(483.50,803.90) scale(1.02,1.0)" font-size="16.6" text-anchor="middle" fill="#111" stroke="#111" stroke-width="0.6">16</text>
<text class="s" transform="translate(529.50,803.90) scale(1.02,1.0)" font-size="16.6" text-anchor="middle" fill="#111" stroke="#111" stroke-width="0.6">18</text>
<text class="s" transform="translate(579.50,803.90) scale(1.02,1.0)" font-size="16.6" text-anchor="middle" fill="#111" stroke="#111" stroke-width="0.6">20</text>
<text class="s" transform="translate(625.90,803.90) scale(1.02,1.0)" font-size="16.6" text-anchor="middle" fill="#111" stroke="#111" stroke-width="0.6">22</text>
<text class="a" transform="translate(657.00,803.60) scale(1.0,1.0)" font-size="17" text-anchor="start" fill="#111" stroke="#111" stroke-width="0.7">Q[m/h]</text>
<text class="a" x="691" y="793" font-size="5" fill="#333">3</text>
<text class="s" transform="translate(33.00,970.50) scale(1.02,1.0)" font-size="16.6" text-anchor="end" fill="#111" stroke="#111" stroke-width="0.6">0</text>
<text class="s" transform="translate(33.00,948.50) scale(1.02,1.0)" font-size="16.6" text-anchor="end" fill="#111" stroke="#111" stroke-width="0.6">50</text>
<text class="s" transform="translate(33.00,925.50) scale(1.02,1.0)" font-size="16.6" text-anchor="end" fill="#111" stroke="#111" stroke-width="0.6">100</text>
<text class="s" transform="translate(33.00,905.10) scale(1.02,1.0)" font-size="16.6" text-anchor="end" fill="#111" stroke="#111" stroke-width="0.6">150</text>
<text class="s" transform="translate(82.60,970.10) scale(1.02,1.0)" font-size="16.6" text-anchor="end" fill="#111" stroke="#111" stroke-width="0.6">0</text>
<text class="s" transform="translate(82.60,954.00) scale(1.02,1.0)" font-size="16.6" text-anchor="end" fill="#111" stroke="#111" stroke-width="0.6">4</text>
<text class="s" transform="translate(82.60,936.90) scale(1.02,1.0)" font-size="16.6" text-anchor="end" fill="#111" stroke="#111" stroke-width="0.6">8</text>
<text class="s" transform="translate(82.60,919.90) scale(1.02,1.0)" font-size="16.6" text-anchor="end" fill="#111" stroke="#111" stroke-width="0.6">12</text>
<text class="s" transform="translate(82.60,902.20) scale(1.02,1.0)" font-size="16.6" text-anchor="end" fill="#111" stroke="#111" stroke-width="0.6">16</text>
<text class="s" transform="translate(706.30,969.90) scale(1.02,1.0)" font-size="16.6" text-anchor="middle" fill="#111" stroke="#111" stroke-width="0.6">0</text>
<text class="s" transform="translate(706.30,954.10) scale(1.02,1.0)" font-size="16.6" text-anchor="middle" fill="#111" stroke="#111" stroke-width="0.6">2</text>
<text class="s" transform="translate(706.30,937.20) scale(1.02,1.0)" font-size="16.6" text-anchor="middle" fill="#111" stroke="#111" stroke-width="0.6">4</text>
<text class="s" transform="translate(706.30,921.70) scale(1.02,1.0)" font-size="16.6" text-anchor="middle" fill="#111" stroke="#111" stroke-width="0.6">6</text>
<text class="s" transform="translate(706.30,904.30) scale(1.02,1.0)" font-size="16.6" text-anchor="middle" fill="#111" stroke="#111" stroke-width="0.6">8</text>
<text class="a" transform="translate(42.50,855.70) scale(1.0,1.0)" font-size="17" text-anchor="middle" fill="#111" stroke="#111" stroke-width="0.7">Q-H</text>
<text class="a" transform="translate(82.20,855.70) scale(1.0,1.0)" font-size="17" text-anchor="middle" fill="#111" stroke="#111" stroke-width="0.7">H</text>
<text class="a" transform="translate(41.30,872.80) scale(1.0,1.0)" font-size="17" text-anchor="middle" fill="#111" stroke="#111" stroke-width="0.7">[kPa]</text>
<text class="a" transform="translate(80.40,872.80) scale(1.0,1.0)" font-size="17" text-anchor="middle" fill="#111" stroke="#111" stroke-width="0.7">[M]</text>
<text class="a" transform="translate(712.00,872.40) scale(0.985,1.0)" font-size="17" text-anchor="end" fill="#111" stroke="#111" stroke-width="0.7">NPSH[m]</text>
<text class="a" transform="translate(149.80,895.00) scale(0.985,1.0)" font-size="17" text-anchor="start" fill="#111" stroke="#111" stroke-width="0.7">QH 2900rpm</text>
<text class="a" transform="translate(151.30,947.80) scale(0.965,1.0)" font-size="17" text-anchor="start" fill="#111" stroke="#111" stroke-width="0.7">NPSH</text>
<text class="s" transform="translate(93.70,985.60) scale(1.02,1.0)" font-size="16.6" text-anchor="middle" fill="#111" stroke="#111" stroke-width="0.6">0</text>
<text class="s" transform="translate(143.50,985.60) scale(1.02,1.0)" font-size="16.6" text-anchor="middle" fill="#111" stroke="#111" stroke-width="0.6">2</text>
<text class="s" transform="translate(189.20,985.60) scale(1.02,1.0)" font-size="16.6" text-anchor="middle" fill="#111" stroke="#111" stroke-width="0.6">4</text>
<text class="s" transform="translate(239.80,985.60) scale(1.02,1.0)" font-size="16.6" text-anchor="middle" fill="#111" stroke="#111" stroke-width="0.6">6</text>
<text class="s" transform="translate(286.10,985.60) scale(1.02,1.0)" font-size="16.6" text-anchor="middle" fill="#111" stroke="#111" stroke-width="0.6">8</text>
<text class="s" transform="translate(337.20,985.60) scale(1.02,1.0)" font-size="16.6" text-anchor="middle" fill="#111" stroke="#111" stroke-width="0.6">10</text>
<text class="s" transform="translate(387.50,985.60) scale(1.02,1.0)" font-size="16.6" text-anchor="middle" fill="#111" stroke="#111" stroke-width="0.6">12</text>
<text class="s" transform="translate(432.90,985.60) scale(1.02,1.0)" font-size="16.6" text-anchor="middle" fill="#111" stroke="#111" stroke-width="0.6">14</text>
<text class="s" transform="translate(483.50,985.60) scale(1.02,1.0)" font-size="16.6" text-anchor="middle" fill="#111" stroke="#111" stroke-width="0.6">16</text>
<text class="s" transform="translate(529.50,985.60) scale(1.02,1.0)" font-size="16.6" text-anchor="middle" fill="#111" stroke="#111" stroke-width="0.6">18</text>
<text class="s" transform="translate(579.50,985.60) scale(1.02,1.0)" font-size="16.6" text-anchor="middle" fill="#111" stroke="#111" stroke-width="0.6">20</text>
<text class="s" transform="translate(625.90,985.60) scale(1.02,1.0)" font-size="16.6" text-anchor="middle" fill="#111" stroke="#111" stroke-width="0.6">22</text>
<text class="a" transform="translate(657.00,985.20) scale(1.0,1.0)" font-size="17" text-anchor="start" fill="#111" stroke="#111" stroke-width="0.7">Q[m/h]</text>
<text class="a" x="691" y="975" font-size="5" fill="#333">3</text>
</g>
<defs><filter id="txt" x="0" y="0" width="100%" height="100%"><feGaussianBlur stdDeviation="0.18"/></filter><filter id="soft" x="0" y="0" width="100%" height="100%"><feGaussianBlur stdDeviation="0.3"/></filter></defs>
</svg>
</body>
</html>
